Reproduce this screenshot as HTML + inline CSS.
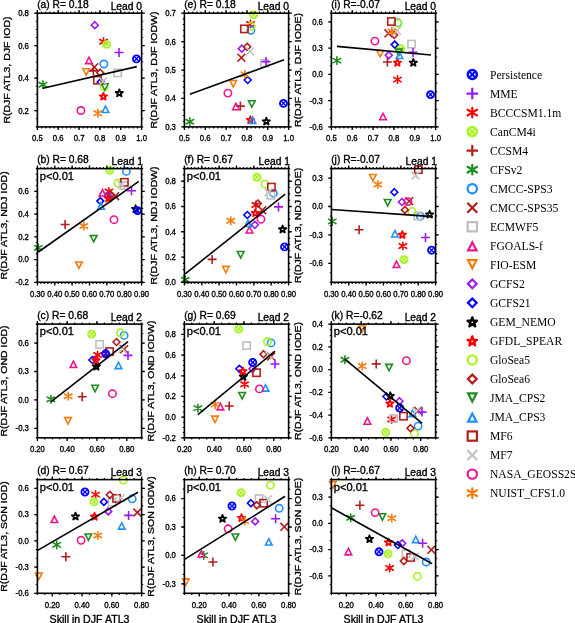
<!DOCTYPE html>
<html><head><meta charset="utf-8"><style>
html,body{margin:0;padding:0;background:#fff;}
svg{display:block;will-change:transform;}
</style></head><body>
<svg width="575" height="623" viewBox="0 0 575 623">
<rect width="575" height="623" fill="#fff"/>
<path d="M103.5 37.9V45.5M99.77 39.46L107.23 43.94M99.77 43.94L107.23 39.46" stroke="#ff0000" stroke-width="1.6" stroke-linecap="round"/>
<g stroke="#a5f51e" fill="none"><circle cx="106.6" cy="44.4" r="3.55" stroke-width="1.84"/><path d="M104.04 41.84L109.16 46.96M104.04 46.96L109.16 41.84" stroke-width="1.36"/></g>
<path d="M88.9 70.9H97.9M93.4 66.4V75.4" stroke="#b21e1e" stroke-width="1.6"/>
<path d="M42.9 80.9V88.5M39.17 82.46L46.63 86.94M39.17 86.94L46.63 82.46" stroke="#1e8c1e" stroke-width="1.6" stroke-linecap="round"/>
<circle cx="103.9" cy="64" r="3.65" fill="none" stroke="#1e90ff" stroke-width="1.6"/>
<path d="M90.5 63.3L98.3 71.1M90.5 71.1L98.3 63.3" stroke="#b21e1e" stroke-width="1.6"/>
<rect x="113.95" y="69.25" width="7.3" height="7.3" fill="none" stroke="#bebebe" stroke-width="1.6"/>
<path d="M89 57.25L92.3 63.65L85.7 63.65Z" fill="none" stroke="#f0148c" stroke-width="1.6"/>
<path d="M86.2 75.15L89.5 68.75L82.9 68.75Z" fill="none" stroke="#f57d0f" stroke-width="1.6"/>
<path d="M94.8 21.75L98.25 25.2L94.8 28.65L91.35 25.2Z" fill="none" stroke="#9b19f5" stroke-width="1.6"/>
<path d="M100.7 78.55L104.15 82L100.7 85.45L97.25 82Z" fill="none" stroke="#0000ff" stroke-width="1.6"/>
<path d="M119.3 89.32L120.21 91.92L122.96 91.98L120.76 93.65L121.56 96.28L119.3 94.71L117.04 96.28L117.84 93.65L115.64 91.98L118.39 91.92Z" fill="none" stroke="#000000" stroke-width="1.79" stroke-linejoin="round"/>
<path d="M103.4 92.72L104.31 95.32L107.06 95.38L104.86 97.05L105.66 99.68L103.4 98.11L101.14 99.68L101.94 97.05L99.74 95.38L102.49 95.32Z" fill="none" stroke="#ff0000" stroke-width="1.79" stroke-linejoin="round"/>
<circle cx="104.2" cy="86.9" r="3.65" fill="none" stroke="#a5f51e" stroke-width="1.6"/>
<path d="M100.2 69.25L103.65 72.7L100.2 76.15L96.75 72.7Z" fill="none" stroke="#b21e1e" stroke-width="1.6"/>
<path d="M104.8 90.25L108.1 83.85L101.5 83.85Z" fill="none" stroke="#1e8c1e" stroke-width="1.6"/>
<path d="M105.5 106.05L108.8 112.45L102.2 112.45Z" fill="none" stroke="#1e90ff" stroke-width="1.6"/>
<rect x="93.75" y="76.55" width="7.3" height="7.3" fill="none" stroke="#b21e1e" stroke-width="1.6"/>
<path d="M99.1 77.5L106.9 85.3M99.1 85.3L106.9 77.5" stroke="#c3c3c3" stroke-width="1.6"/>
<circle cx="80.9" cy="110.5" r="3.65" fill="none" stroke="#f0148c" stroke-width="1.6"/>
<path d="M97.8 109.4V117M94.07 110.96L101.53 115.44M94.07 115.44L101.53 110.96" stroke="#f57d0f" stroke-width="1.6" stroke-linecap="round"/>
<path d="M114.5 52.5H123.5M119 48V57" stroke="#9b19f5" stroke-width="1.6"/>
<g stroke="#0000ff" fill="none"><circle cx="136.5" cy="58.9" r="3.55" stroke-width="1.84"/><path d="M133.94 56.34L139.06 61.46M133.94 61.46L139.06 56.34" stroke-width="1.36"/></g>
<path d="M42.9 88.3L136.8 66.6" stroke="#000" stroke-width="1.6" fill="none"/>
<path d="M37.4 126.9v1.6M37.4 13.2v-1.6M41.57 126.9v1.6M41.57 13.2v-1.6M45.74 126.9v1.6M45.74 13.2v-1.6M49.9 126.9v1.6M49.9 13.2v-1.6M54.07 126.9v1.6M54.07 13.2v-1.6M58.24 126.9v1.6M58.24 13.2v-1.6M62.41 126.9v1.6M62.41 13.2v-1.6M66.58 126.9v1.6M66.58 13.2v-1.6M70.74 126.9v1.6M70.74 13.2v-1.6M74.91 126.9v1.6M74.91 13.2v-1.6M79.08 126.9v1.6M79.08 13.2v-1.6M83.25 126.9v1.6M83.25 13.2v-1.6M87.42 126.9v1.6M87.42 13.2v-1.6M91.58 126.9v1.6M91.58 13.2v-1.6M95.75 126.9v1.6M95.75 13.2v-1.6M99.92 126.9v1.6M99.92 13.2v-1.6M104.09 126.9v1.6M104.09 13.2v-1.6M108.26 126.9v1.6M108.26 13.2v-1.6M112.42 126.9v1.6M112.42 13.2v-1.6M116.59 126.9v1.6M116.59 13.2v-1.6M120.76 126.9v1.6M120.76 13.2v-1.6M124.93 126.9v1.6M124.93 13.2v-1.6M129.1 126.9v1.6M129.1 13.2v-1.6M133.26 126.9v1.6M133.26 13.2v-1.6M137.43 126.9v1.6M137.43 13.2v-1.6M141.6 126.9v1.6M141.6 13.2v-1.6M37.4 126.9h-1.6M141.6 126.9h1.6M37.4 118.78h-1.6M141.6 118.78h1.6M37.4 110.66h-1.6M141.6 110.66h1.6M37.4 102.54h-1.6M141.6 102.54h1.6M37.4 94.41h-1.6M141.6 94.41h1.6M37.4 86.29h-1.6M141.6 86.29h1.6M37.4 78.17h-1.6M141.6 78.17h1.6M37.4 70.05h-1.6M141.6 70.05h1.6M37.4 61.93h-1.6M141.6 61.93h1.6M37.4 53.81h-1.6M141.6 53.81h1.6M37.4 45.69h-1.6M141.6 45.69h1.6M37.4 37.56h-1.6M141.6 37.56h1.6M37.4 29.44h-1.6M141.6 29.44h1.6M37.4 21.32h-1.6M141.6 21.32h1.6M37.4 13.2h-1.6M141.6 13.2h1.6" stroke="#000" stroke-width="1.1" fill="none"/>
<path d="M37.4 126.9v3.2M37.4 13.2v-3.2M58.24 126.9v3.2M58.24 13.2v-3.2M79.08 126.9v3.2M79.08 13.2v-3.2M99.92 126.9v3.2M99.92 13.2v-3.2M120.76 126.9v3.2M120.76 13.2v-3.2M141.6 126.9v3.2M141.6 13.2v-3.2M37.4 110.66h-3.2M141.6 110.66h3.2M37.4 78.17h-3.2M141.6 78.17h3.2M37.4 45.69h-3.2M141.6 45.69h3.2M37.4 13.2h-3.2M141.6 13.2h3.2" stroke="#000" stroke-width="1.3" fill="none"/>
<rect x="37.4" y="13.2" width="104.2" height="113.7" fill="none" stroke="#000" stroke-width="1.6"/>
<text transform="translate(37.4 141.1) scale(0.92 1)" font-size="8.4" text-anchor="middle" font-family='"Liberation Sans", sans-serif' stroke="#000" stroke-width="0.35">0.5</text>
<text transform="translate(58.24 141.1) scale(0.92 1)" font-size="8.4" text-anchor="middle" font-family='"Liberation Sans", sans-serif' stroke="#000" stroke-width="0.35">0.6</text>
<text transform="translate(79.08 141.1) scale(0.92 1)" font-size="8.4" text-anchor="middle" font-family='"Liberation Sans", sans-serif' stroke="#000" stroke-width="0.35">0.7</text>
<text transform="translate(99.92 141.1) scale(0.92 1)" font-size="8.4" text-anchor="middle" font-family='"Liberation Sans", sans-serif' stroke="#000" stroke-width="0.35">0.8</text>
<text transform="translate(120.76 141.1) scale(0.92 1)" font-size="8.4" text-anchor="middle" font-family='"Liberation Sans", sans-serif' stroke="#000" stroke-width="0.35">0.9</text>
<text transform="translate(141.6 141.1) scale(0.92 1)" font-size="8.4" text-anchor="middle" font-family='"Liberation Sans", sans-serif' stroke="#000" stroke-width="0.35">1.0</text>
<text transform="translate(28.9 113.56) scale(0.92 1)" font-size="8.4" text-anchor="end" font-family='"Liberation Sans", sans-serif' stroke="#000" stroke-width="0.35">0.2</text>
<text transform="translate(28.9 81.07) scale(0.92 1)" font-size="8.4" text-anchor="end" font-family='"Liberation Sans", sans-serif' stroke="#000" stroke-width="0.35">0.4</text>
<text transform="translate(28.9 48.59) scale(0.92 1)" font-size="8.4" text-anchor="end" font-family='"Liberation Sans", sans-serif' stroke="#000" stroke-width="0.35">0.6</text>
<text transform="translate(28.9 16.1) scale(0.92 1)" font-size="8.4" text-anchor="end" font-family='"Liberation Sans", sans-serif' stroke="#000" stroke-width="0.35">0.8</text>
<text x="37.2" y="8" font-size="10.25" text-anchor="start" font-family='"Liberation Sans", sans-serif' stroke="#000" stroke-width="0.35">(a) R= 0.18</text>
<text x="142" y="9.7" font-size="10.25" text-anchor="end" font-family='"Liberation Sans", sans-serif' stroke="#000" stroke-width="0.35">Lead 0</text>
<text transform="translate(9.66 70.05) rotate(-90) scale(1 0.92)" font-size="10.5" text-anchor="middle" font-family='"Liberation Sans", sans-serif' stroke="#000" stroke-width="0.35">R(DJF ATL3, DJF IOD)</text>
<path d="M250.5 20.2V27.8M246.77 21.76L254.23 26.24M246.77 26.24L254.23 21.76" stroke="#ff0000" stroke-width="1.6" stroke-linecap="round"/>
<g stroke="#a5f51e" fill="none"><circle cx="253.6" cy="14.6" r="3.55" stroke-width="1.84"/><path d="M251.04 12.04L256.16 17.16M251.04 17.16L256.16 12.04" stroke-width="1.36"/></g>
<path d="M235.9 106.1H244.9M240.4 101.6V110.6" stroke="#b21e1e" stroke-width="1.6"/>
<path d="M189.9 117.9V125.5M186.17 119.46L193.63 123.94M186.17 123.94L193.63 119.46" stroke="#1e8c1e" stroke-width="1.6" stroke-linecap="round"/>
<circle cx="250.9" cy="30.3" r="3.65" fill="none" stroke="#1e90ff" stroke-width="1.6"/>
<path d="M237.5 53.8L245.3 61.6M237.5 61.6L245.3 53.8" stroke="#b21e1e" stroke-width="1.6"/>
<rect x="260.95" y="59.65" width="7.3" height="7.3" fill="none" stroke="#bebebe" stroke-width="1.6"/>
<path d="M236 103.35L239.3 109.75L232.7 109.75Z" fill="none" stroke="#f0148c" stroke-width="1.6"/>
<path d="M233.2 86.95L236.5 80.55L229.9 80.55Z" fill="none" stroke="#f57d0f" stroke-width="1.6"/>
<path d="M241.8 45.25L245.25 48.7L241.8 52.15L238.35 48.7Z" fill="none" stroke="#9b19f5" stroke-width="1.6"/>
<path d="M247.7 76.55L251.15 80L247.7 83.45L244.25 80Z" fill="none" stroke="#0000ff" stroke-width="1.6"/>
<path d="M266.3 117.62L267.21 120.22L269.96 120.28L267.76 121.95L268.56 124.58L266.3 123.01L264.04 124.58L264.84 121.95L262.64 120.28L265.39 120.22Z" fill="none" stroke="#000000" stroke-width="1.79" stroke-linejoin="round"/>
<path d="M250.4 116.22L251.31 118.82L254.06 118.88L251.86 120.55L252.66 123.18L250.4 121.61L248.14 123.18L248.94 120.55L246.74 118.88L249.49 118.82Z" fill="none" stroke="#ff0000" stroke-width="1.79" stroke-linejoin="round"/>
<circle cx="251.2" cy="26.4" r="3.65" fill="none" stroke="#a5f51e" stroke-width="1.6"/>
<path d="M247.2 43.35L250.65 46.8L247.2 50.25L243.75 46.8Z" fill="none" stroke="#b21e1e" stroke-width="1.6"/>
<path d="M251.8 107.15L255.1 100.75L248.5 100.75Z" fill="none" stroke="#1e8c1e" stroke-width="1.6"/>
<path d="M252.5 116.95L255.8 123.35L249.2 123.35Z" fill="none" stroke="#1e90ff" stroke-width="1.6"/>
<rect x="240.75" y="25.25" width="7.3" height="7.3" fill="none" stroke="#b21e1e" stroke-width="1.6"/>
<path d="M246.1 47.5L253.9 55.3M246.1 55.3L253.9 47.5" stroke="#c3c3c3" stroke-width="1.6"/>
<circle cx="227.9" cy="93.1" r="3.65" fill="none" stroke="#f0148c" stroke-width="1.6"/>
<path d="M244.8 70.6V78.2M241.07 72.16L248.53 76.64M241.07 76.64L248.53 72.16" stroke="#f57d0f" stroke-width="1.6" stroke-linecap="round"/>
<path d="M261.5 61.6H270.5M266 57.1V66.1" stroke="#9b19f5" stroke-width="1.6"/>
<g stroke="#0000ff" fill="none"><circle cx="283.5" cy="103.4" r="3.55" stroke-width="1.84"/><path d="M280.94 100.84L286.06 105.96M280.94 105.96L286.06 100.84" stroke-width="1.36"/></g>
<path d="M189.9 94.2L284.1 59.8" stroke="#000" stroke-width="1.6" fill="none"/>
<path d="M184.4 126.9v1.6M184.4 13.2v-1.6M188.57 126.9v1.6M188.57 13.2v-1.6M192.74 126.9v1.6M192.74 13.2v-1.6M196.9 126.9v1.6M196.9 13.2v-1.6M201.07 126.9v1.6M201.07 13.2v-1.6M205.24 126.9v1.6M205.24 13.2v-1.6M209.41 126.9v1.6M209.41 13.2v-1.6M213.58 126.9v1.6M213.58 13.2v-1.6M217.74 126.9v1.6M217.74 13.2v-1.6M221.91 126.9v1.6M221.91 13.2v-1.6M226.08 126.9v1.6M226.08 13.2v-1.6M230.25 126.9v1.6M230.25 13.2v-1.6M234.42 126.9v1.6M234.42 13.2v-1.6M238.58 126.9v1.6M238.58 13.2v-1.6M242.75 126.9v1.6M242.75 13.2v-1.6M246.92 126.9v1.6M246.92 13.2v-1.6M251.09 126.9v1.6M251.09 13.2v-1.6M255.26 126.9v1.6M255.26 13.2v-1.6M259.42 126.9v1.6M259.42 13.2v-1.6M263.59 126.9v1.6M263.59 13.2v-1.6M267.76 126.9v1.6M267.76 13.2v-1.6M271.93 126.9v1.6M271.93 13.2v-1.6M276.1 126.9v1.6M276.1 13.2v-1.6M280.26 126.9v1.6M280.26 13.2v-1.6M284.43 126.9v1.6M284.43 13.2v-1.6M288.6 126.9v1.6M288.6 13.2v-1.6M184.4 126.9h-1.6M288.6 126.9h1.6M184.4 121.22h-1.6M288.6 121.22h1.6M184.4 115.53h-1.6M288.6 115.53h1.6M184.4 109.84h-1.6M288.6 109.84h1.6M184.4 104.16h-1.6M288.6 104.16h1.6M184.4 98.47h-1.6M288.6 98.47h1.6M184.4 92.79h-1.6M288.6 92.79h1.6M184.4 87.1h-1.6M288.6 87.1h1.6M184.4 81.42h-1.6M288.6 81.42h1.6M184.4 75.74h-1.6M288.6 75.74h1.6M184.4 70.05h-1.6M288.6 70.05h1.6M184.4 64.36h-1.6M288.6 64.36h1.6M184.4 58.68h-1.6M288.6 58.68h1.6M184.4 52.99h-1.6M288.6 52.99h1.6M184.4 47.31h-1.6M288.6 47.31h1.6M184.4 41.62h-1.6M288.6 41.62h1.6M184.4 35.94h-1.6M288.6 35.94h1.6M184.4 30.25h-1.6M288.6 30.25h1.6M184.4 24.57h-1.6M288.6 24.57h1.6M184.4 18.88h-1.6M288.6 18.88h1.6M184.4 13.2h-1.6M288.6 13.2h1.6" stroke="#000" stroke-width="1.1" fill="none"/>
<path d="M184.4 126.9v3.2M184.4 13.2v-3.2M205.24 126.9v3.2M205.24 13.2v-3.2M226.08 126.9v3.2M226.08 13.2v-3.2M246.92 126.9v3.2M246.92 13.2v-3.2M267.76 126.9v3.2M267.76 13.2v-3.2M288.6 126.9v3.2M288.6 13.2v-3.2M184.4 126.9h-3.2M288.6 126.9h3.2M184.4 98.47h-3.2M288.6 98.47h3.2M184.4 70.05h-3.2M288.6 70.05h3.2M184.4 41.62h-3.2M288.6 41.62h3.2M184.4 13.2h-3.2M288.6 13.2h3.2" stroke="#000" stroke-width="1.3" fill="none"/>
<rect x="184.4" y="13.2" width="104.2" height="113.7" fill="none" stroke="#000" stroke-width="1.6"/>
<text transform="translate(184.4 141.1) scale(0.92 1)" font-size="8.4" text-anchor="middle" font-family='"Liberation Sans", sans-serif' stroke="#000" stroke-width="0.35">0.5</text>
<text transform="translate(205.24 141.1) scale(0.92 1)" font-size="8.4" text-anchor="middle" font-family='"Liberation Sans", sans-serif' stroke="#000" stroke-width="0.35">0.6</text>
<text transform="translate(226.08 141.1) scale(0.92 1)" font-size="8.4" text-anchor="middle" font-family='"Liberation Sans", sans-serif' stroke="#000" stroke-width="0.35">0.7</text>
<text transform="translate(246.92 141.1) scale(0.92 1)" font-size="8.4" text-anchor="middle" font-family='"Liberation Sans", sans-serif' stroke="#000" stroke-width="0.35">0.8</text>
<text transform="translate(267.76 141.1) scale(0.92 1)" font-size="8.4" text-anchor="middle" font-family='"Liberation Sans", sans-serif' stroke="#000" stroke-width="0.35">0.9</text>
<text transform="translate(288.6 141.1) scale(0.92 1)" font-size="8.4" text-anchor="middle" font-family='"Liberation Sans", sans-serif' stroke="#000" stroke-width="0.35">1.0</text>
<text transform="translate(175.9 129.8) scale(0.92 1)" font-size="8.4" text-anchor="end" font-family='"Liberation Sans", sans-serif' stroke="#000" stroke-width="0.35">0.3</text>
<text transform="translate(175.9 101.38) scale(0.92 1)" font-size="8.4" text-anchor="end" font-family='"Liberation Sans", sans-serif' stroke="#000" stroke-width="0.35">0.4</text>
<text transform="translate(175.9 72.95) scale(0.92 1)" font-size="8.4" text-anchor="end" font-family='"Liberation Sans", sans-serif' stroke="#000" stroke-width="0.35">0.5</text>
<text transform="translate(175.9 44.52) scale(0.92 1)" font-size="8.4" text-anchor="end" font-family='"Liberation Sans", sans-serif' stroke="#000" stroke-width="0.35">0.6</text>
<text transform="translate(175.9 16.1) scale(0.92 1)" font-size="8.4" text-anchor="end" font-family='"Liberation Sans", sans-serif' stroke="#000" stroke-width="0.35">0.7</text>
<text x="184.2" y="8" font-size="10.25" text-anchor="start" font-family='"Liberation Sans", sans-serif' stroke="#000" stroke-width="0.35">(e) R= 0.18</text>
<text x="289" y="9.7" font-size="10.25" text-anchor="end" font-family='"Liberation Sans", sans-serif' stroke="#000" stroke-width="0.35">Lead 0</text>
<text transform="translate(156.66 70.05) rotate(-90) scale(1 0.92)" font-size="10.5" text-anchor="middle" font-family='"Liberation Sans", sans-serif' stroke="#000" stroke-width="0.35">R(DJF ATL3, DJF IODW)</text>
<path d="M397.5 75.8V83.4M393.77 77.36L401.23 81.84M393.77 81.84L401.23 77.36" stroke="#ff0000" stroke-width="1.6" stroke-linecap="round"/>
<g stroke="#a5f51e" fill="none"><circle cx="400.6" cy="48.7" r="3.55" stroke-width="1.84"/><path d="M398.04 46.14L403.16 51.26M398.04 51.26L403.16 46.14" stroke-width="1.36"/></g>
<path d="M382.9 62H391.9M387.4 57.5V66.5" stroke="#b21e1e" stroke-width="1.6"/>
<path d="M336.9 56.8V64.4M333.17 58.36L340.63 62.84M333.17 62.84L340.63 58.36" stroke="#1e8c1e" stroke-width="1.6" stroke-linecap="round"/>
<circle cx="397.9" cy="22.8" r="3.65" fill="none" stroke="#1e90ff" stroke-width="1.6"/>
<path d="M384.5 29.4L392.3 37.2M384.5 37.2L392.3 29.4" stroke="#b21e1e" stroke-width="1.6"/>
<rect x="407.95" y="40.45" width="7.3" height="7.3" fill="none" stroke="#bebebe" stroke-width="1.6"/>
<path d="M383 113.35L386.3 119.75L379.7 119.75Z" fill="none" stroke="#f0148c" stroke-width="1.6"/>
<path d="M380.2 56.85L383.5 50.45L376.9 50.45Z" fill="none" stroke="#f57d0f" stroke-width="1.6"/>
<path d="M388.8 51.75L392.25 55.2L388.8 58.65L385.35 55.2Z" fill="none" stroke="#9b19f5" stroke-width="1.6"/>
<path d="M394.7 41.15L398.15 44.6L394.7 48.05L391.25 44.6Z" fill="none" stroke="#0000ff" stroke-width="1.6"/>
<path d="M413.3 58.92L414.21 61.52L416.96 61.58L414.76 63.25L415.56 65.88L413.3 64.31L411.04 65.88L411.84 63.25L409.64 61.58L412.39 61.52Z" fill="none" stroke="#000000" stroke-width="1.79" stroke-linejoin="round"/>
<path d="M397.4 58.92L398.31 61.52L401.06 61.58L398.86 63.25L399.66 65.88L397.4 64.31L395.14 65.88L395.94 63.25L393.74 61.58L396.49 61.52Z" fill="none" stroke="#ff0000" stroke-width="1.79" stroke-linejoin="round"/>
<circle cx="398.2" cy="23.3" r="3.65" fill="none" stroke="#a5f51e" stroke-width="1.6"/>
<path d="M394.2 31.55L397.65 35L394.2 38.45L390.75 35Z" fill="none" stroke="#b21e1e" stroke-width="1.6"/>
<path d="M398.8 55.55L402.1 49.15L395.5 49.15Z" fill="none" stroke="#1e8c1e" stroke-width="1.6"/>
<path d="M399.5 52.05L402.8 58.45L396.2 58.45Z" fill="none" stroke="#1e90ff" stroke-width="1.6"/>
<rect x="387.75" y="17.85" width="7.3" height="7.3" fill="none" stroke="#b21e1e" stroke-width="1.6"/>
<path d="M393.1 26.7L400.9 34.5M393.1 34.5L400.9 26.7" stroke="#c3c3c3" stroke-width="1.6"/>
<circle cx="374.9" cy="41.1" r="3.65" fill="none" stroke="#f0148c" stroke-width="1.6"/>
<path d="M391.8 27.7V35.3M388.07 29.26L395.53 33.74M388.07 33.74L395.53 29.26" stroke="#f57d0f" stroke-width="1.6" stroke-linecap="round"/>
<path d="M408.5 52.4H417.5M413 47.9V56.9" stroke="#9b19f5" stroke-width="1.6"/>
<g stroke="#0000ff" fill="none"><circle cx="430.5" cy="94.6" r="3.55" stroke-width="1.84"/><path d="M427.94 92.04L433.06 97.16M427.94 97.16L433.06 92.04" stroke-width="1.36"/></g>
<path d="M337 46.4L431 55" stroke="#000" stroke-width="1.6" fill="none"/>
<path d="M331.4 126.9v1.6M331.4 13.2v-1.6M335.57 126.9v1.6M335.57 13.2v-1.6M339.74 126.9v1.6M339.74 13.2v-1.6M343.9 126.9v1.6M343.9 13.2v-1.6M348.07 126.9v1.6M348.07 13.2v-1.6M352.24 126.9v1.6M352.24 13.2v-1.6M356.41 126.9v1.6M356.41 13.2v-1.6M360.58 126.9v1.6M360.58 13.2v-1.6M364.74 126.9v1.6M364.74 13.2v-1.6M368.91 126.9v1.6M368.91 13.2v-1.6M373.08 126.9v1.6M373.08 13.2v-1.6M377.25 126.9v1.6M377.25 13.2v-1.6M381.42 126.9v1.6M381.42 13.2v-1.6M385.58 126.9v1.6M385.58 13.2v-1.6M389.75 126.9v1.6M389.75 13.2v-1.6M393.92 126.9v1.6M393.92 13.2v-1.6M398.09 126.9v1.6M398.09 13.2v-1.6M402.26 126.9v1.6M402.26 13.2v-1.6M406.42 126.9v1.6M406.42 13.2v-1.6M410.59 126.9v1.6M410.59 13.2v-1.6M414.76 126.9v1.6M414.76 13.2v-1.6M418.93 126.9v1.6M418.93 13.2v-1.6M423.1 126.9v1.6M423.1 13.2v-1.6M427.26 126.9v1.6M427.26 13.2v-1.6M431.43 126.9v1.6M431.43 13.2v-1.6M435.6 126.9v1.6M435.6 13.2v-1.6M331.4 126.9h-1.6M435.6 126.9h1.6M331.4 118.15h-1.6M435.6 118.15h1.6M331.4 109.41h-1.6M435.6 109.41h1.6M331.4 100.66h-1.6M435.6 100.66h1.6M331.4 91.92h-1.6M435.6 91.92h1.6M331.4 83.17h-1.6M435.6 83.17h1.6M331.4 74.42h-1.6M435.6 74.42h1.6M331.4 65.68h-1.6M435.6 65.68h1.6M331.4 56.93h-1.6M435.6 56.93h1.6M331.4 48.18h-1.6M435.6 48.18h1.6M331.4 39.44h-1.6M435.6 39.44h1.6M331.4 30.69h-1.6M435.6 30.69h1.6M331.4 21.95h-1.6M435.6 21.95h1.6M331.4 13.2h-1.6M435.6 13.2h1.6" stroke="#000" stroke-width="1.1" fill="none"/>
<path d="M331.4 126.9v3.2M331.4 13.2v-3.2M352.24 126.9v3.2M352.24 13.2v-3.2M373.08 126.9v3.2M373.08 13.2v-3.2M393.92 126.9v3.2M393.92 13.2v-3.2M414.76 126.9v3.2M414.76 13.2v-3.2M435.6 126.9v3.2M435.6 13.2v-3.2M331.4 126.9h-3.2M435.6 126.9h3.2M331.4 100.66h-3.2M435.6 100.66h3.2M331.4 74.42h-3.2M435.6 74.42h3.2M331.4 48.18h-3.2M435.6 48.18h3.2M331.4 21.95h-3.2M435.6 21.95h3.2" stroke="#000" stroke-width="1.3" fill="none"/>
<rect x="331.4" y="13.2" width="104.2" height="113.7" fill="none" stroke="#000" stroke-width="1.6"/>
<text transform="translate(331.4 141.1) scale(0.92 1)" font-size="8.4" text-anchor="middle" font-family='"Liberation Sans", sans-serif' stroke="#000" stroke-width="0.35">0.5</text>
<text transform="translate(352.24 141.1) scale(0.92 1)" font-size="8.4" text-anchor="middle" font-family='"Liberation Sans", sans-serif' stroke="#000" stroke-width="0.35">0.6</text>
<text transform="translate(373.08 141.1) scale(0.92 1)" font-size="8.4" text-anchor="middle" font-family='"Liberation Sans", sans-serif' stroke="#000" stroke-width="0.35">0.7</text>
<text transform="translate(393.92 141.1) scale(0.92 1)" font-size="8.4" text-anchor="middle" font-family='"Liberation Sans", sans-serif' stroke="#000" stroke-width="0.35">0.8</text>
<text transform="translate(414.76 141.1) scale(0.92 1)" font-size="8.4" text-anchor="middle" font-family='"Liberation Sans", sans-serif' stroke="#000" stroke-width="0.35">0.9</text>
<text transform="translate(435.6 141.1) scale(0.92 1)" font-size="8.4" text-anchor="middle" font-family='"Liberation Sans", sans-serif' stroke="#000" stroke-width="0.35">1.0</text>
<text transform="translate(322.9 129.8) scale(0.92 1)" font-size="8.4" text-anchor="end" font-family='"Liberation Sans", sans-serif' stroke="#000" stroke-width="0.35">-0.6</text>
<text transform="translate(322.9 103.56) scale(0.92 1)" font-size="8.4" text-anchor="end" font-family='"Liberation Sans", sans-serif' stroke="#000" stroke-width="0.35">-0.3</text>
<text transform="translate(322.9 77.32) scale(0.92 1)" font-size="8.4" text-anchor="end" font-family='"Liberation Sans", sans-serif' stroke="#000" stroke-width="0.35">0.0</text>
<text transform="translate(322.9 51.08) scale(0.92 1)" font-size="8.4" text-anchor="end" font-family='"Liberation Sans", sans-serif' stroke="#000" stroke-width="0.35">0.3</text>
<text transform="translate(322.9 24.85) scale(0.92 1)" font-size="8.4" text-anchor="end" font-family='"Liberation Sans", sans-serif' stroke="#000" stroke-width="0.35">0.6</text>
<text x="331.2" y="8" font-size="10.25" text-anchor="start" font-family='"Liberation Sans", sans-serif' stroke="#000" stroke-width="0.35">(i) R=-0.07</text>
<text x="436" y="9.7" font-size="10.25" text-anchor="end" font-family='"Liberation Sans", sans-serif' stroke="#000" stroke-width="0.35">Lead 0</text>
<text transform="translate(301.08 70.05) rotate(-90) scale(1 0.92)" font-size="10.5" text-anchor="middle" font-family='"Liberation Sans", sans-serif' stroke="#000" stroke-width="0.35">R(DJF ATL3, DJF IODE)</text>
<path d="M108.9 187.7V195.3M105.17 189.26L112.63 193.74M105.17 193.74L112.63 189.26" stroke="#ff0000" stroke-width="1.6" stroke-linecap="round"/>
<g stroke="#a5f51e" fill="none"><circle cx="109.9" cy="170.3" r="3.55" stroke-width="1.84"/><path d="M107.34 167.74L112.46 172.86M107.34 172.86L112.46 167.74" stroke-width="1.36"/></g>
<path d="M60.6 224.5H69.6M65.1 220V229" stroke="#b21e1e" stroke-width="1.6"/>
<path d="M38.3 244.1V251.7M34.57 245.66L42.03 250.14M34.57 250.14L42.03 245.66" stroke="#1e8c1e" stroke-width="1.6" stroke-linecap="round"/>
<circle cx="126.4" cy="171.4" r="3.65" fill="none" stroke="#1e90ff" stroke-width="1.6"/>
<path d="M111.3 192.3L119.1 200.1M111.3 200.1L119.1 192.3" stroke="#b21e1e" stroke-width="1.6"/>
<rect x="120.25" y="181.85" width="7.3" height="7.3" fill="none" stroke="#bebebe" stroke-width="1.6"/>
<path d="M102.5 189.65L105.8 196.05L99.2 196.05Z" fill="none" stroke="#f0148c" stroke-width="1.6"/>
<path d="M78.9 268.35L82.2 261.95L75.6 261.95Z" fill="none" stroke="#f57d0f" stroke-width="1.6"/>
<path d="M107.9 192.15L111.35 195.6L107.9 199.05L104.45 195.6Z" fill="none" stroke="#9b19f5" stroke-width="1.6"/>
<path d="M100.3 197.65L103.75 201.1L100.3 204.55L96.85 201.1Z" fill="none" stroke="#0000ff" stroke-width="1.6"/>
<path d="M135.6 205.22L136.51 207.82L139.26 207.88L137.06 209.55L137.86 212.18L135.6 210.61L133.34 212.18L134.14 209.55L131.94 207.88L134.69 207.82Z" fill="none" stroke="#000000" stroke-width="1.79" stroke-linejoin="round"/>
<path d="M108.3 194.52L109.21 197.12L111.96 197.18L109.76 198.85L110.56 201.48L108.3 199.91L106.04 201.48L106.84 198.85L104.64 197.18L107.39 197.12Z" fill="none" stroke="#ff0000" stroke-width="1.79" stroke-linejoin="round"/>
<circle cx="118" cy="183" r="3.65" fill="none" stroke="#a5f51e" stroke-width="1.6"/>
<path d="M110.9 191.25L114.35 194.7L110.9 198.15L107.45 194.7Z" fill="none" stroke="#b21e1e" stroke-width="1.6"/>
<path d="M93.7 241.85L97 235.45L90.4 235.45Z" fill="none" stroke="#1e8c1e" stroke-width="1.6"/>
<path d="M101 202.85L104.3 209.25L97.7 209.25Z" fill="none" stroke="#1e90ff" stroke-width="1.6"/>
<rect x="120.75" y="178.65" width="7.3" height="7.3" fill="none" stroke="#b21e1e" stroke-width="1.6"/>
<path d="M117.6 180.8L125.4 188.6M117.6 188.6L125.4 180.8" stroke="#c3c3c3" stroke-width="1.6"/>
<circle cx="114" cy="219.7" r="3.65" fill="none" stroke="#f0148c" stroke-width="1.6"/>
<path d="M83.8 222.2V229.8M80.07 223.76L87.53 228.24M80.07 228.24L87.53 223.76" stroke="#f57d0f" stroke-width="1.6" stroke-linecap="round"/>
<path d="M127 190.8H136M131.5 186.3V195.3" stroke="#9b19f5" stroke-width="1.6"/>
<g stroke="#0000ff" fill="none"><circle cx="137.6" cy="210.6" r="3.55" stroke-width="1.84"/><path d="M135.04 208.04L140.16 213.16M135.04 213.16L140.16 208.04" stroke-width="1.36"/></g>
<path d="M38.3 252L138.8 181.4" stroke="#000" stroke-width="1.6" fill="none"/>
<path d="M37.4 282.3v1.6M37.4 168.6v-1.6M40.87 282.3v1.6M40.87 168.6v-1.6M44.35 282.3v1.6M44.35 168.6v-1.6M47.82 282.3v1.6M47.82 168.6v-1.6M51.29 282.3v1.6M51.29 168.6v-1.6M54.77 282.3v1.6M54.77 168.6v-1.6M58.24 282.3v1.6M58.24 168.6v-1.6M61.71 282.3v1.6M61.71 168.6v-1.6M65.19 282.3v1.6M65.19 168.6v-1.6M68.66 282.3v1.6M68.66 168.6v-1.6M72.13 282.3v1.6M72.13 168.6v-1.6M75.61 282.3v1.6M75.61 168.6v-1.6M79.08 282.3v1.6M79.08 168.6v-1.6M82.55 282.3v1.6M82.55 168.6v-1.6M86.03 282.3v1.6M86.03 168.6v-1.6M89.5 282.3v1.6M89.5 168.6v-1.6M92.97 282.3v1.6M92.97 168.6v-1.6M96.45 282.3v1.6M96.45 168.6v-1.6M99.92 282.3v1.6M99.92 168.6v-1.6M103.39 282.3v1.6M103.39 168.6v-1.6M106.87 282.3v1.6M106.87 168.6v-1.6M110.34 282.3v1.6M110.34 168.6v-1.6M113.81 282.3v1.6M113.81 168.6v-1.6M117.29 282.3v1.6M117.29 168.6v-1.6M120.76 282.3v1.6M120.76 168.6v-1.6M124.23 282.3v1.6M124.23 168.6v-1.6M127.71 282.3v1.6M127.71 168.6v-1.6M131.18 282.3v1.6M131.18 168.6v-1.6M134.65 282.3v1.6M134.65 168.6v-1.6M138.13 282.3v1.6M138.13 168.6v-1.6M141.6 282.3v1.6M141.6 168.6v-1.6M37.4 282.3h-1.6M141.6 282.3h1.6M37.4 276.62h-1.6M141.6 276.62h1.6M37.4 270.93h-1.6M141.6 270.93h1.6M37.4 265.25h-1.6M141.6 265.25h1.6M37.4 259.56h-1.6M141.6 259.56h1.6M37.4 253.88h-1.6M141.6 253.88h1.6M37.4 248.19h-1.6M141.6 248.19h1.6M37.4 242.5h-1.6M141.6 242.5h1.6M37.4 236.82h-1.6M141.6 236.82h1.6M37.4 231.14h-1.6M141.6 231.14h1.6M37.4 225.45h-1.6M141.6 225.45h1.6M37.4 219.77h-1.6M141.6 219.77h1.6M37.4 214.08h-1.6M141.6 214.08h1.6M37.4 208.4h-1.6M141.6 208.4h1.6M37.4 202.71h-1.6M141.6 202.71h1.6M37.4 197.03h-1.6M141.6 197.03h1.6M37.4 191.34h-1.6M141.6 191.34h1.6M37.4 185.66h-1.6M141.6 185.66h1.6M37.4 179.97h-1.6M141.6 179.97h1.6M37.4 174.29h-1.6M141.6 174.29h1.6M37.4 168.6h-1.6M141.6 168.6h1.6" stroke="#000" stroke-width="1.1" fill="none"/>
<path d="M37.4 282.3v3.2M37.4 168.6v-3.2M54.77 282.3v3.2M54.77 168.6v-3.2M72.13 282.3v3.2M72.13 168.6v-3.2M89.5 282.3v3.2M89.5 168.6v-3.2M106.87 282.3v3.2M106.87 168.6v-3.2M124.23 282.3v3.2M124.23 168.6v-3.2M141.6 282.3v3.2M141.6 168.6v-3.2M37.4 282.3h-3.2M141.6 282.3h3.2M37.4 259.56h-3.2M141.6 259.56h3.2M37.4 236.82h-3.2M141.6 236.82h3.2M37.4 214.08h-3.2M141.6 214.08h3.2M37.4 191.34h-3.2M141.6 191.34h3.2" stroke="#000" stroke-width="1.3" fill="none"/>
<rect x="37.4" y="168.6" width="104.2" height="113.7" fill="none" stroke="#000" stroke-width="1.6"/>
<text transform="translate(37.4 296.5) scale(0.92 1)" font-size="8.4" text-anchor="middle" font-family='"Liberation Sans", sans-serif' stroke="#000" stroke-width="0.35">0.30</text>
<text transform="translate(54.77 296.5) scale(0.92 1)" font-size="8.4" text-anchor="middle" font-family='"Liberation Sans", sans-serif' stroke="#000" stroke-width="0.35">0.40</text>
<text transform="translate(72.13 296.5) scale(0.92 1)" font-size="8.4" text-anchor="middle" font-family='"Liberation Sans", sans-serif' stroke="#000" stroke-width="0.35">0.50</text>
<text transform="translate(89.5 296.5) scale(0.92 1)" font-size="8.4" text-anchor="middle" font-family='"Liberation Sans", sans-serif' stroke="#000" stroke-width="0.35">0.60</text>
<text transform="translate(106.87 296.5) scale(0.92 1)" font-size="8.4" text-anchor="middle" font-family='"Liberation Sans", sans-serif' stroke="#000" stroke-width="0.35">0.70</text>
<text transform="translate(124.23 296.5) scale(0.92 1)" font-size="8.4" text-anchor="middle" font-family='"Liberation Sans", sans-serif' stroke="#000" stroke-width="0.35">0.80</text>
<text transform="translate(141.6 296.5) scale(0.92 1)" font-size="8.4" text-anchor="middle" font-family='"Liberation Sans", sans-serif' stroke="#000" stroke-width="0.35">0.90</text>
<text transform="translate(28.9 285.2) scale(0.92 1)" font-size="8.4" text-anchor="end" font-family='"Liberation Sans", sans-serif' stroke="#000" stroke-width="0.35">-0.2</text>
<text transform="translate(28.9 262.46) scale(0.92 1)" font-size="8.4" text-anchor="end" font-family='"Liberation Sans", sans-serif' stroke="#000" stroke-width="0.35">0.0</text>
<text transform="translate(28.9 239.72) scale(0.92 1)" font-size="8.4" text-anchor="end" font-family='"Liberation Sans", sans-serif' stroke="#000" stroke-width="0.35">0.2</text>
<text transform="translate(28.9 216.98) scale(0.92 1)" font-size="8.4" text-anchor="end" font-family='"Liberation Sans", sans-serif' stroke="#000" stroke-width="0.35">0.4</text>
<text transform="translate(28.9 194.24) scale(0.92 1)" font-size="8.4" text-anchor="end" font-family='"Liberation Sans", sans-serif' stroke="#000" stroke-width="0.35">0.6</text>
<text x="37.2" y="163.4" font-size="10.25" text-anchor="start" font-family='"Liberation Sans", sans-serif' stroke="#000" stroke-width="0.35">(b) R= 0.68</text>
<text x="142.9" y="165.1" font-size="10.25" text-anchor="end" font-family='"Liberation Sans", sans-serif' stroke="#000" stroke-width="0.35">Lead 1</text>
<text x="39.8" y="179.5" font-size="11.1" text-anchor="start" font-family='"Liberation Sans", sans-serif' stroke="#000" stroke-width="0.35">p&lt;0.01</text>
<text transform="translate(7.08 225.45) rotate(-90) scale(1 0.92)" font-size="10.5" text-anchor="middle" font-family='"Liberation Sans", sans-serif' stroke="#000" stroke-width="0.35">R(DJF ATL3, NDJ IOD)</text>
<path d="M255.9 201.2V208.8M252.17 202.76L259.63 207.24M252.17 207.24L259.63 202.76" stroke="#ff0000" stroke-width="1.6" stroke-linecap="round"/>
<g stroke="#a5f51e" fill="none"><circle cx="256.9" cy="177.3" r="3.55" stroke-width="1.84"/><path d="M254.34 174.74L259.46 179.86M254.34 179.86L259.46 174.74" stroke-width="1.36"/></g>
<path d="M207.6 259.4H216.6M212.1 254.9V263.9" stroke="#b21e1e" stroke-width="1.6"/>
<path d="M185.3 276V283.6M181.57 277.56L189.03 282.04M181.57 282.04L189.03 277.56" stroke="#1e8c1e" stroke-width="1.6" stroke-linecap="round"/>
<circle cx="273.4" cy="193.2" r="3.65" fill="none" stroke="#1e90ff" stroke-width="1.6"/>
<path d="M258.3 206.3L266.1 214.1M258.3 214.1L266.1 206.3" stroke="#b21e1e" stroke-width="1.6"/>
<rect x="267.25" y="191.55" width="7.3" height="7.3" fill="none" stroke="#bebebe" stroke-width="1.6"/>
<path d="M249.5 226.55L252.8 232.95L246.2 232.95Z" fill="none" stroke="#f0148c" stroke-width="1.6"/>
<path d="M225.9 272.75L229.2 266.35L222.6 266.35Z" fill="none" stroke="#f57d0f" stroke-width="1.6"/>
<path d="M254.9 221.35L258.35 224.8L254.9 228.25L251.45 224.8Z" fill="none" stroke="#9b19f5" stroke-width="1.6"/>
<path d="M247.3 211.55L250.75 215L247.3 218.45L243.85 215Z" fill="none" stroke="#0000ff" stroke-width="1.6"/>
<path d="M282.6 225.52L283.51 228.12L286.26 228.18L284.06 229.85L284.86 232.48L282.6 230.91L280.34 232.48L281.14 229.85L278.94 228.18L281.69 228.12Z" fill="none" stroke="#000000" stroke-width="1.79" stroke-linejoin="round"/>
<path d="M255.3 209.32L256.21 211.92L258.96 211.98L256.76 213.65L257.56 216.28L255.3 214.71L253.04 216.28L253.84 213.65L251.64 211.98L254.39 211.92Z" fill="none" stroke="#ff0000" stroke-width="1.79" stroke-linejoin="round"/>
<circle cx="265" cy="184.1" r="3.65" fill="none" stroke="#a5f51e" stroke-width="1.6"/>
<path d="M257.9 200.05L261.35 203.5L257.9 206.95L254.45 203.5Z" fill="none" stroke="#b21e1e" stroke-width="1.6"/>
<path d="M240.7 257.95L244 251.55L237.4 251.55Z" fill="none" stroke="#1e8c1e" stroke-width="1.6"/>
<path d="M248 220.15L251.3 226.55L244.7 226.55Z" fill="none" stroke="#1e90ff" stroke-width="1.6"/>
<rect x="267.75" y="183.45" width="7.3" height="7.3" fill="none" stroke="#b21e1e" stroke-width="1.6"/>
<path d="M264.6 188.4L272.4 196.2M264.6 196.2L272.4 188.4" stroke="#c3c3c3" stroke-width="1.6"/>
<circle cx="261" cy="219.2" r="3.65" fill="none" stroke="#f0148c" stroke-width="1.6"/>
<path d="M230.8 217V224.6M227.07 218.56L234.53 223.04M227.07 223.04L234.53 218.56" stroke="#f57d0f" stroke-width="1.6" stroke-linecap="round"/>
<path d="M274 206.9H283M278.5 202.4V211.4" stroke="#9b19f5" stroke-width="1.6"/>
<g stroke="#0000ff" fill="none"><circle cx="284.6" cy="246.9" r="3.55" stroke-width="1.84"/><path d="M282.04 244.34L287.16 249.46M282.04 249.46L287.16 244.34" stroke-width="1.36"/></g>
<path d="M185.2 273.9L285.2 194.1" stroke="#000" stroke-width="1.6" fill="none"/>
<path d="M184.4 282.3v1.6M184.4 168.6v-1.6M187.87 282.3v1.6M187.87 168.6v-1.6M191.35 282.3v1.6M191.35 168.6v-1.6M194.82 282.3v1.6M194.82 168.6v-1.6M198.29 282.3v1.6M198.29 168.6v-1.6M201.77 282.3v1.6M201.77 168.6v-1.6M205.24 282.3v1.6M205.24 168.6v-1.6M208.71 282.3v1.6M208.71 168.6v-1.6M212.19 282.3v1.6M212.19 168.6v-1.6M215.66 282.3v1.6M215.66 168.6v-1.6M219.13 282.3v1.6M219.13 168.6v-1.6M222.61 282.3v1.6M222.61 168.6v-1.6M226.08 282.3v1.6M226.08 168.6v-1.6M229.55 282.3v1.6M229.55 168.6v-1.6M233.03 282.3v1.6M233.03 168.6v-1.6M236.5 282.3v1.6M236.5 168.6v-1.6M239.97 282.3v1.6M239.97 168.6v-1.6M243.45 282.3v1.6M243.45 168.6v-1.6M246.92 282.3v1.6M246.92 168.6v-1.6M250.39 282.3v1.6M250.39 168.6v-1.6M253.87 282.3v1.6M253.87 168.6v-1.6M257.34 282.3v1.6M257.34 168.6v-1.6M260.81 282.3v1.6M260.81 168.6v-1.6M264.29 282.3v1.6M264.29 168.6v-1.6M267.76 282.3v1.6M267.76 168.6v-1.6M271.23 282.3v1.6M271.23 168.6v-1.6M274.71 282.3v1.6M274.71 168.6v-1.6M278.18 282.3v1.6M278.18 168.6v-1.6M281.65 282.3v1.6M281.65 168.6v-1.6M285.13 282.3v1.6M285.13 168.6v-1.6M288.6 282.3v1.6M288.6 168.6v-1.6M184.4 282.3h-1.6M288.6 282.3h1.6M184.4 275.98h-1.6M288.6 275.98h1.6M184.4 269.67h-1.6M288.6 269.67h1.6M184.4 263.35h-1.6M288.6 263.35h1.6M184.4 257.03h-1.6M288.6 257.03h1.6M184.4 250.72h-1.6M288.6 250.72h1.6M184.4 244.4h-1.6M288.6 244.4h1.6M184.4 238.08h-1.6M288.6 238.08h1.6M184.4 231.77h-1.6M288.6 231.77h1.6M184.4 225.45h-1.6M288.6 225.45h1.6M184.4 219.13h-1.6M288.6 219.13h1.6M184.4 212.82h-1.6M288.6 212.82h1.6M184.4 206.5h-1.6M288.6 206.5h1.6M184.4 200.18h-1.6M288.6 200.18h1.6M184.4 193.87h-1.6M288.6 193.87h1.6M184.4 187.55h-1.6M288.6 187.55h1.6M184.4 181.23h-1.6M288.6 181.23h1.6M184.4 174.92h-1.6M288.6 174.92h1.6M184.4 168.6h-1.6M288.6 168.6h1.6" stroke="#000" stroke-width="1.1" fill="none"/>
<path d="M184.4 282.3v3.2M184.4 168.6v-3.2M201.77 282.3v3.2M201.77 168.6v-3.2M219.13 282.3v3.2M219.13 168.6v-3.2M236.5 282.3v3.2M236.5 168.6v-3.2M253.87 282.3v3.2M253.87 168.6v-3.2M271.23 282.3v3.2M271.23 168.6v-3.2M288.6 282.3v3.2M288.6 168.6v-3.2M184.4 282.3h-3.2M288.6 282.3h3.2M184.4 257.03h-3.2M288.6 257.03h3.2M184.4 231.77h-3.2M288.6 231.77h3.2M184.4 206.5h-3.2M288.6 206.5h3.2M184.4 181.23h-3.2M288.6 181.23h3.2" stroke="#000" stroke-width="1.3" fill="none"/>
<rect x="184.4" y="168.6" width="104.2" height="113.7" fill="none" stroke="#000" stroke-width="1.6"/>
<text transform="translate(184.4 296.5) scale(0.92 1)" font-size="8.4" text-anchor="middle" font-family='"Liberation Sans", sans-serif' stroke="#000" stroke-width="0.35">0.30</text>
<text transform="translate(201.77 296.5) scale(0.92 1)" font-size="8.4" text-anchor="middle" font-family='"Liberation Sans", sans-serif' stroke="#000" stroke-width="0.35">0.40</text>
<text transform="translate(219.13 296.5) scale(0.92 1)" font-size="8.4" text-anchor="middle" font-family='"Liberation Sans", sans-serif' stroke="#000" stroke-width="0.35">0.50</text>
<text transform="translate(236.5 296.5) scale(0.92 1)" font-size="8.4" text-anchor="middle" font-family='"Liberation Sans", sans-serif' stroke="#000" stroke-width="0.35">0.60</text>
<text transform="translate(253.87 296.5) scale(0.92 1)" font-size="8.4" text-anchor="middle" font-family='"Liberation Sans", sans-serif' stroke="#000" stroke-width="0.35">0.70</text>
<text transform="translate(271.23 296.5) scale(0.92 1)" font-size="8.4" text-anchor="middle" font-family='"Liberation Sans", sans-serif' stroke="#000" stroke-width="0.35">0.80</text>
<text transform="translate(288.6 296.5) scale(0.92 1)" font-size="8.4" text-anchor="middle" font-family='"Liberation Sans", sans-serif' stroke="#000" stroke-width="0.35">0.90</text>
<text transform="translate(175.9 285.2) scale(0.92 1)" font-size="8.4" text-anchor="end" font-family='"Liberation Sans", sans-serif' stroke="#000" stroke-width="0.35">0.0</text>
<text transform="translate(175.9 259.93) scale(0.92 1)" font-size="8.4" text-anchor="end" font-family='"Liberation Sans", sans-serif' stroke="#000" stroke-width="0.35">0.2</text>
<text transform="translate(175.9 234.67) scale(0.92 1)" font-size="8.4" text-anchor="end" font-family='"Liberation Sans", sans-serif' stroke="#000" stroke-width="0.35">0.4</text>
<text transform="translate(175.9 209.4) scale(0.92 1)" font-size="8.4" text-anchor="end" font-family='"Liberation Sans", sans-serif' stroke="#000" stroke-width="0.35">0.6</text>
<text transform="translate(175.9 184.13) scale(0.92 1)" font-size="8.4" text-anchor="end" font-family='"Liberation Sans", sans-serif' stroke="#000" stroke-width="0.35">0.8</text>
<text x="184.2" y="163.4" font-size="10.25" text-anchor="start" font-family='"Liberation Sans", sans-serif' stroke="#000" stroke-width="0.35">(f) R= 0.67</text>
<text x="289.9" y="165.1" font-size="10.25" text-anchor="end" font-family='"Liberation Sans", sans-serif' stroke="#000" stroke-width="0.35">Lead 1</text>
<text x="186.8" y="179.5" font-size="11.1" text-anchor="start" font-family='"Liberation Sans", sans-serif' stroke="#000" stroke-width="0.35">p&lt;0.01</text>
<text transform="translate(156.66 225.45) rotate(-90) scale(1 0.92)" font-size="10.5" text-anchor="middle" font-family='"Liberation Sans", sans-serif' stroke="#000" stroke-width="0.35">R(DJF ATL3, NDJ IODW)</text>
<path d="M402.9 242.2V249.8M399.17 243.76L406.63 248.24M399.17 248.24L406.63 243.76" stroke="#ff0000" stroke-width="1.6" stroke-linecap="round"/>
<g stroke="#a5f51e" fill="none"><circle cx="403.9" cy="259.6" r="3.55" stroke-width="1.84"/><path d="M401.34 257.04L406.46 262.16M401.34 262.16L406.46 257.04" stroke-width="1.36"/></g>
<path d="M354.6 229.7H363.6M359.1 225.2V234.2" stroke="#b21e1e" stroke-width="1.6"/>
<path d="M332.3 217.6V225.2M328.57 219.16L336.03 223.64M328.57 223.64L336.03 219.16" stroke="#1e8c1e" stroke-width="1.6" stroke-linecap="round"/>
<circle cx="420.4" cy="216.2" r="3.65" fill="none" stroke="#1e90ff" stroke-width="1.6"/>
<path d="M405.3 197.2L413.1 205M405.3 205L413.1 197.2" stroke="#b21e1e" stroke-width="1.6"/>
<rect x="414.25" y="212.35" width="7.3" height="7.3" fill="none" stroke="#bebebe" stroke-width="1.6"/>
<path d="M396.5 261.05L399.8 267.45L393.2 267.45Z" fill="none" stroke="#f0148c" stroke-width="1.6"/>
<path d="M372.9 180.95L376.2 174.55L369.6 174.55Z" fill="none" stroke="#f57d0f" stroke-width="1.6"/>
<path d="M401.9 198.55L405.35 202L401.9 205.45L398.45 202Z" fill="none" stroke="#9b19f5" stroke-width="1.6"/>
<path d="M394.3 188.75L397.75 192.2L394.3 195.65L390.85 192.2Z" fill="none" stroke="#0000ff" stroke-width="1.6"/>
<path d="M429.6 210.62L430.51 213.22L433.26 213.28L431.06 214.95L431.86 217.58L429.6 216.01L427.34 217.58L428.14 214.95L425.94 213.28L428.69 213.22Z" fill="none" stroke="#000000" stroke-width="1.79" stroke-linejoin="round"/>
<path d="M402.3 231.02L403.21 233.62L405.96 233.68L403.76 235.35L404.56 237.98L402.3 236.41L400.04 237.98L400.84 235.35L398.64 233.68L401.39 233.62Z" fill="none" stroke="#ff0000" stroke-width="1.79" stroke-linejoin="round"/>
<circle cx="412" cy="211.4" r="3.65" fill="none" stroke="#a5f51e" stroke-width="1.6"/>
<path d="M404.9 206.45L408.35 209.9L404.9 213.35L401.45 209.9Z" fill="none" stroke="#b21e1e" stroke-width="1.6"/>
<path d="M387.7 205.95L391 199.55L384.4 199.55Z" fill="none" stroke="#1e8c1e" stroke-width="1.6"/>
<path d="M395 230.55L398.3 236.95L391.7 236.95Z" fill="none" stroke="#1e90ff" stroke-width="1.6"/>
<rect x="414.75" y="165.95" width="7.3" height="7.3" fill="none" stroke="#b21e1e" stroke-width="1.6"/>
<path d="M411.6 171.6L419.4 179.4M411.6 179.4L419.4 171.6" stroke="#c3c3c3" stroke-width="1.6"/>
<circle cx="408" cy="201.6" r="3.65" fill="none" stroke="#f0148c" stroke-width="1.6"/>
<path d="M377.8 180.7V188.3M374.07 182.26L381.53 186.74M374.07 186.74L381.53 182.26" stroke="#f57d0f" stroke-width="1.6" stroke-linecap="round"/>
<path d="M421 237.5H430M425.5 233V242" stroke="#9b19f5" stroke-width="1.6"/>
<g stroke="#0000ff" fill="none"><circle cx="431.6" cy="250.2" r="3.55" stroke-width="1.84"/><path d="M429.04 247.64L434.16 252.76M429.04 252.76L434.16 247.64" stroke-width="1.36"/></g>
<path d="M331.6 209.5L432.9 216.6" stroke="#000" stroke-width="1.6" fill="none"/>
<path d="M331.4 282.3v1.6M331.4 168.6v-1.6M334.87 282.3v1.6M334.87 168.6v-1.6M338.35 282.3v1.6M338.35 168.6v-1.6M341.82 282.3v1.6M341.82 168.6v-1.6M345.29 282.3v1.6M345.29 168.6v-1.6M348.77 282.3v1.6M348.77 168.6v-1.6M352.24 282.3v1.6M352.24 168.6v-1.6M355.71 282.3v1.6M355.71 168.6v-1.6M359.19 282.3v1.6M359.19 168.6v-1.6M362.66 282.3v1.6M362.66 168.6v-1.6M366.13 282.3v1.6M366.13 168.6v-1.6M369.61 282.3v1.6M369.61 168.6v-1.6M373.08 282.3v1.6M373.08 168.6v-1.6M376.55 282.3v1.6M376.55 168.6v-1.6M380.03 282.3v1.6M380.03 168.6v-1.6M383.5 282.3v1.6M383.5 168.6v-1.6M386.97 282.3v1.6M386.97 168.6v-1.6M390.45 282.3v1.6M390.45 168.6v-1.6M393.92 282.3v1.6M393.92 168.6v-1.6M397.39 282.3v1.6M397.39 168.6v-1.6M400.87 282.3v1.6M400.87 168.6v-1.6M404.34 282.3v1.6M404.34 168.6v-1.6M407.81 282.3v1.6M407.81 168.6v-1.6M411.29 282.3v1.6M411.29 168.6v-1.6M414.76 282.3v1.6M414.76 168.6v-1.6M418.23 282.3v1.6M418.23 168.6v-1.6M421.71 282.3v1.6M421.71 168.6v-1.6M425.18 282.3v1.6M425.18 168.6v-1.6M428.65 282.3v1.6M428.65 168.6v-1.6M432.13 282.3v1.6M432.13 168.6v-1.6M435.6 282.3v1.6M435.6 168.6v-1.6M331.4 282.3h-1.6M435.6 282.3h1.6M331.4 272.82h-1.6M435.6 272.82h1.6M331.4 263.35h-1.6M435.6 263.35h1.6M331.4 253.88h-1.6M435.6 253.88h1.6M331.4 244.4h-1.6M435.6 244.4h1.6M331.4 234.93h-1.6M435.6 234.93h1.6M331.4 225.45h-1.6M435.6 225.45h1.6M331.4 215.98h-1.6M435.6 215.98h1.6M331.4 206.5h-1.6M435.6 206.5h1.6M331.4 197.03h-1.6M435.6 197.03h1.6M331.4 187.55h-1.6M435.6 187.55h1.6M331.4 178.08h-1.6M435.6 178.08h1.6M331.4 168.6h-1.6M435.6 168.6h1.6" stroke="#000" stroke-width="1.1" fill="none"/>
<path d="M331.4 282.3v3.2M331.4 168.6v-3.2M348.77 282.3v3.2M348.77 168.6v-3.2M366.13 282.3v3.2M366.13 168.6v-3.2M383.5 282.3v3.2M383.5 168.6v-3.2M400.87 282.3v3.2M400.87 168.6v-3.2M418.23 282.3v3.2M418.23 168.6v-3.2M435.6 282.3v3.2M435.6 168.6v-3.2M331.4 263.35h-3.2M435.6 263.35h3.2M331.4 234.93h-3.2M435.6 234.93h3.2M331.4 206.5h-3.2M435.6 206.5h3.2M331.4 178.08h-3.2M435.6 178.08h3.2" stroke="#000" stroke-width="1.3" fill="none"/>
<rect x="331.4" y="168.6" width="104.2" height="113.7" fill="none" stroke="#000" stroke-width="1.6"/>
<text transform="translate(331.4 296.5) scale(0.92 1)" font-size="8.4" text-anchor="middle" font-family='"Liberation Sans", sans-serif' stroke="#000" stroke-width="0.35">0.30</text>
<text transform="translate(348.77 296.5) scale(0.92 1)" font-size="8.4" text-anchor="middle" font-family='"Liberation Sans", sans-serif' stroke="#000" stroke-width="0.35">0.40</text>
<text transform="translate(366.13 296.5) scale(0.92 1)" font-size="8.4" text-anchor="middle" font-family='"Liberation Sans", sans-serif' stroke="#000" stroke-width="0.35">0.50</text>
<text transform="translate(383.5 296.5) scale(0.92 1)" font-size="8.4" text-anchor="middle" font-family='"Liberation Sans", sans-serif' stroke="#000" stroke-width="0.35">0.60</text>
<text transform="translate(400.87 296.5) scale(0.92 1)" font-size="8.4" text-anchor="middle" font-family='"Liberation Sans", sans-serif' stroke="#000" stroke-width="0.35">0.70</text>
<text transform="translate(418.23 296.5) scale(0.92 1)" font-size="8.4" text-anchor="middle" font-family='"Liberation Sans", sans-serif' stroke="#000" stroke-width="0.35">0.80</text>
<text transform="translate(435.6 296.5) scale(0.92 1)" font-size="8.4" text-anchor="middle" font-family='"Liberation Sans", sans-serif' stroke="#000" stroke-width="0.35">0.90</text>
<text transform="translate(322.9 266.25) scale(0.92 1)" font-size="8.4" text-anchor="end" font-family='"Liberation Sans", sans-serif' stroke="#000" stroke-width="0.35">-0.6</text>
<text transform="translate(322.9 237.83) scale(0.92 1)" font-size="8.4" text-anchor="end" font-family='"Liberation Sans", sans-serif' stroke="#000" stroke-width="0.35">-0.3</text>
<text transform="translate(322.9 209.4) scale(0.92 1)" font-size="8.4" text-anchor="end" font-family='"Liberation Sans", sans-serif' stroke="#000" stroke-width="0.35">0.0</text>
<text transform="translate(322.9 180.98) scale(0.92 1)" font-size="8.4" text-anchor="end" font-family='"Liberation Sans", sans-serif' stroke="#000" stroke-width="0.35">0.3</text>
<text x="331.2" y="163.4" font-size="10.25" text-anchor="start" font-family='"Liberation Sans", sans-serif' stroke="#000" stroke-width="0.35">(j) R=-0.07</text>
<text x="436.9" y="165.1" font-size="10.25" text-anchor="end" font-family='"Liberation Sans", sans-serif' stroke="#000" stroke-width="0.35">Lead 1</text>
<text transform="translate(301.08 225.45) rotate(-90) scale(1 0.92)" font-size="10.5" text-anchor="middle" font-family='"Liberation Sans", sans-serif' stroke="#000" stroke-width="0.35">R(DJF ATL3, NDJ IODE)</text>
<path d="M97.6 351.2V358.8M93.87 352.76L101.33 357.24M93.87 357.24L101.33 352.76" stroke="#ff0000" stroke-width="1.6" stroke-linecap="round"/>
<g stroke="#a5f51e" fill="none"><circle cx="91.7" cy="334.1" r="3.55" stroke-width="1.84"/><path d="M89.14 331.54L94.26 336.66M89.14 336.66L94.26 331.54" stroke-width="1.36"/></g>
<path d="M77.7 396.8H86.7M82.2 392.3V401.3" stroke="#b21e1e" stroke-width="1.6"/>
<path d="M50.9 395.5V403.1M47.17 397.06L54.63 401.54M47.17 401.54L54.63 397.06" stroke="#1e8c1e" stroke-width="1.6" stroke-linecap="round"/>
<circle cx="124.1" cy="335.4" r="3.65" fill="none" stroke="#1e90ff" stroke-width="1.6"/>
<path d="M120.2 345.4L128 353.2M120.2 353.2L128 345.4" stroke="#b21e1e" stroke-width="1.6"/>
<rect x="95.95" y="340.75" width="7.3" height="7.3" fill="none" stroke="#bebebe" stroke-width="1.6"/>
<path d="M73.4 361.15L76.7 367.55L70.1 367.55Z" fill="none" stroke="#f0148c" stroke-width="1.6"/>
<path d="M68 424.05L71.3 417.65L64.7 417.65Z" fill="none" stroke="#f57d0f" stroke-width="1.6"/>
<path d="M105.5 350.35L108.95 353.8L105.5 357.25L102.05 353.8Z" fill="none" stroke="#9b19f5" stroke-width="1.6"/>
<path d="M92.4 356.55L95.85 360L92.4 363.45L88.95 360Z" fill="none" stroke="#0000ff" stroke-width="1.6"/>
<path d="M96.3 362.72L97.21 365.32L99.96 365.38L97.76 367.05L98.56 369.68L96.3 368.11L94.04 369.68L94.84 367.05L92.64 365.38L95.39 365.32Z" fill="none" stroke="#000000" stroke-width="1.79" stroke-linejoin="round"/>
<path d="M95.9 356.52L96.81 359.12L99.56 359.18L97.36 360.85L98.16 363.48L95.9 361.91L93.64 363.48L94.44 360.85L92.24 359.18L94.99 359.12Z" fill="none" stroke="#ff0000" stroke-width="1.79" stroke-linejoin="round"/>
<circle cx="120.5" cy="332.8" r="3.65" fill="none" stroke="#a5f51e" stroke-width="1.6"/>
<path d="M116.5 338.55L119.95 342L116.5 345.45L113.05 342Z" fill="none" stroke="#b21e1e" stroke-width="1.6"/>
<path d="M95.1 391.65L98.4 385.25L91.8 385.25Z" fill="none" stroke="#1e8c1e" stroke-width="1.6"/>
<path d="M118.5 362.25L121.8 368.65L115.2 368.65Z" fill="none" stroke="#1e90ff" stroke-width="1.6"/>
<rect x="105.85" y="347.95" width="7.3" height="7.3" fill="none" stroke="#b21e1e" stroke-width="1.6"/>
<path d="M118.5 345.1L126.3 352.9M118.5 352.9L126.3 345.1" stroke="#c3c3c3" stroke-width="1.6"/>
<circle cx="112.4" cy="393.7" r="3.65" fill="none" stroke="#f0148c" stroke-width="1.6"/>
<path d="M68.2 392.4V400M64.47 393.96L71.93 398.44M64.47 398.44L71.93 393.96" stroke="#f57d0f" stroke-width="1.6" stroke-linecap="round"/>
<path d="M123.5 355.4H132.5M128 350.9V359.9" stroke="#9b19f5" stroke-width="1.6"/>
<g stroke="#0000ff" fill="none"><circle cx="105.7" cy="353.8" r="3.55" stroke-width="1.84"/><path d="M103.14 351.24L108.26 356.36M103.14 356.36L108.26 351.24" stroke-width="1.36"/></g>
<path d="M50.9 401.9L128 341.6" stroke="#000" stroke-width="1.6" fill="none"/>
<path d="M37.4 437.8v1.6M37.4 324.1v-1.6M44.84 437.8v1.6M44.84 324.1v-1.6M52.29 437.8v1.6M52.29 324.1v-1.6M59.73 437.8v1.6M59.73 324.1v-1.6M67.17 437.8v1.6M67.17 324.1v-1.6M74.61 437.8v1.6M74.61 324.1v-1.6M82.06 437.8v1.6M82.06 324.1v-1.6M89.5 437.8v1.6M89.5 324.1v-1.6M96.94 437.8v1.6M96.94 324.1v-1.6M104.39 437.8v1.6M104.39 324.1v-1.6M111.83 437.8v1.6M111.83 324.1v-1.6M119.27 437.8v1.6M119.27 324.1v-1.6M126.71 437.8v1.6M126.71 324.1v-1.6M134.16 437.8v1.6M134.16 324.1v-1.6M141.6 437.8v1.6M141.6 324.1v-1.6M37.4 437.8h-1.6M141.6 437.8h1.6M37.4 428.32h-1.6M141.6 428.32h1.6M37.4 418.85h-1.6M141.6 418.85h1.6M37.4 409.38h-1.6M141.6 409.38h1.6M37.4 399.9h-1.6M141.6 399.9h1.6M37.4 390.43h-1.6M141.6 390.43h1.6M37.4 380.95h-1.6M141.6 380.95h1.6M37.4 371.48h-1.6M141.6 371.48h1.6M37.4 362h-1.6M141.6 362h1.6M37.4 352.53h-1.6M141.6 352.53h1.6M37.4 343.05h-1.6M141.6 343.05h1.6M37.4 333.58h-1.6M141.6 333.58h1.6M37.4 324.1h-1.6M141.6 324.1h1.6" stroke="#000" stroke-width="1.1" fill="none"/>
<path d="M37.4 437.8v3.2M37.4 324.1v-3.2M67.17 437.8v3.2M67.17 324.1v-3.2M96.94 437.8v3.2M96.94 324.1v-3.2M126.71 437.8v3.2M126.71 324.1v-3.2M37.4 428.32h-3.2M141.6 428.32h3.2M37.4 399.9h-3.2M141.6 399.9h3.2M37.4 371.48h-3.2M141.6 371.48h3.2M37.4 343.05h-3.2M141.6 343.05h3.2" stroke="#000" stroke-width="1.3" fill="none"/>
<rect x="37.4" y="324.1" width="104.2" height="113.7" fill="none" stroke="#000" stroke-width="1.6"/>
<text transform="translate(37.4 452) scale(0.92 1)" font-size="8.4" text-anchor="middle" font-family='"Liberation Sans", sans-serif' stroke="#000" stroke-width="0.35">0.20</text>
<text transform="translate(67.17 452) scale(0.92 1)" font-size="8.4" text-anchor="middle" font-family='"Liberation Sans", sans-serif' stroke="#000" stroke-width="0.35">0.40</text>
<text transform="translate(96.94 452) scale(0.92 1)" font-size="8.4" text-anchor="middle" font-family='"Liberation Sans", sans-serif' stroke="#000" stroke-width="0.35">0.60</text>
<text transform="translate(126.71 452) scale(0.92 1)" font-size="8.4" text-anchor="middle" font-family='"Liberation Sans", sans-serif' stroke="#000" stroke-width="0.35">0.80</text>
<text transform="translate(28.9 431.22) scale(0.92 1)" font-size="8.4" text-anchor="end" font-family='"Liberation Sans", sans-serif' stroke="#000" stroke-width="0.35">-0.3</text>
<text transform="translate(28.9 402.8) scale(0.92 1)" font-size="8.4" text-anchor="end" font-family='"Liberation Sans", sans-serif' stroke="#000" stroke-width="0.35">0.0</text>
<text transform="translate(28.9 374.38) scale(0.92 1)" font-size="8.4" text-anchor="end" font-family='"Liberation Sans", sans-serif' stroke="#000" stroke-width="0.35">0.3</text>
<text transform="translate(28.9 345.95) scale(0.92 1)" font-size="8.4" text-anchor="end" font-family='"Liberation Sans", sans-serif' stroke="#000" stroke-width="0.35">0.6</text>
<text x="37.2" y="318.9" font-size="10.25" text-anchor="start" font-family='"Liberation Sans", sans-serif' stroke="#000" stroke-width="0.35">(c) R= 0.68</text>
<text x="142" y="320.6" font-size="10.25" text-anchor="end" font-family='"Liberation Sans", sans-serif' stroke="#000" stroke-width="0.35">Lead 2</text>
<text x="39.8" y="335" font-size="11.1" text-anchor="start" font-family='"Liberation Sans", sans-serif' stroke="#000" stroke-width="0.35">p&lt;0.01</text>
<text transform="translate(7.08 380.95) rotate(-90) scale(1 0.92)" font-size="10.5" text-anchor="middle" font-family='"Liberation Sans", sans-serif' stroke="#000" stroke-width="0.35">R(DJF ATL3, OND IOD)</text>
<path d="M244.6 380.5V388.1M240.87 382.06L248.33 386.54M240.87 386.54L248.33 382.06" stroke="#ff0000" stroke-width="1.6" stroke-linecap="round"/>
<g stroke="#a5f51e" fill="none"><circle cx="238.7" cy="329" r="3.55" stroke-width="1.84"/><path d="M236.14 326.44L241.26 331.56M236.14 331.56L241.26 326.44" stroke-width="1.36"/></g>
<path d="M224.7 406H233.7M229.2 401.5V410.5" stroke="#b21e1e" stroke-width="1.6"/>
<path d="M197.9 404.3V411.9M194.17 405.86L201.63 410.34M194.17 410.34L201.63 405.86" stroke="#1e8c1e" stroke-width="1.6" stroke-linecap="round"/>
<circle cx="271.1" cy="342.9" r="3.65" fill="none" stroke="#1e90ff" stroke-width="1.6"/>
<path d="M267.2 352.6L275 360.4M267.2 360.4L275 352.6" stroke="#b21e1e" stroke-width="1.6"/>
<rect x="242.95" y="341.95" width="7.3" height="7.3" fill="none" stroke="#bebebe" stroke-width="1.6"/>
<path d="M220.4 403.45L223.7 409.85L217.1 409.85Z" fill="none" stroke="#f0148c" stroke-width="1.6"/>
<path d="M215 422.55L218.3 416.15L211.7 416.15Z" fill="none" stroke="#f57d0f" stroke-width="1.6"/>
<path d="M252.5 365.35L255.95 368.8L252.5 372.25L249.05 368.8Z" fill="none" stroke="#9b19f5" stroke-width="1.6"/>
<path d="M239.4 365.35L242.85 368.8L239.4 372.25L235.95 368.8Z" fill="none" stroke="#0000ff" stroke-width="1.6"/>
<path d="M243.3 372.82L244.21 375.42L246.96 375.48L244.76 377.15L245.56 379.78L243.3 378.21L241.04 379.78L241.84 377.15L239.64 375.48L242.39 375.42Z" fill="none" stroke="#000000" stroke-width="1.79" stroke-linejoin="round"/>
<path d="M242.9 367.42L243.81 370.02L246.56 370.08L244.36 371.75L245.16 374.38L242.9 372.81L240.64 374.38L241.44 371.75L239.24 370.08L241.99 370.02Z" fill="none" stroke="#ff0000" stroke-width="1.79" stroke-linejoin="round"/>
<circle cx="267.5" cy="341.5" r="3.65" fill="none" stroke="#a5f51e" stroke-width="1.6"/>
<path d="M263.5 350.75L266.95 354.2L263.5 357.65L260.05 354.2Z" fill="none" stroke="#b21e1e" stroke-width="1.6"/>
<path d="M242.1 398.95L245.4 392.55L238.8 392.55Z" fill="none" stroke="#1e8c1e" stroke-width="1.6"/>
<path d="M265.5 384.75L268.8 391.15L262.2 391.15Z" fill="none" stroke="#1e90ff" stroke-width="1.6"/>
<rect x="252.85" y="369.05" width="7.3" height="7.3" fill="none" stroke="#b21e1e" stroke-width="1.6"/>
<path d="M265.5 351.6L273.3 359.4M265.5 359.4L273.3 351.6" stroke="#c3c3c3" stroke-width="1.6"/>
<circle cx="259.4" cy="388.9" r="3.65" fill="none" stroke="#f0148c" stroke-width="1.6"/>
<path d="M215.2 400.8V408.4M211.47 402.36L218.93 406.84M211.47 406.84L218.93 402.36" stroke="#f57d0f" stroke-width="1.6" stroke-linecap="round"/>
<path d="M270.5 364H279.5M275 359.5V368.5" stroke="#9b19f5" stroke-width="1.6"/>
<g stroke="#0000ff" fill="none"><circle cx="252.7" cy="362.4" r="3.55" stroke-width="1.84"/><path d="M250.14 359.84L255.26 364.96M250.14 364.96L255.26 359.84" stroke-width="1.36"/></g>
<path d="M197.9 414.6L275 351.2" stroke="#000" stroke-width="1.6" fill="none"/>
<path d="M184.4 437.8v1.6M184.4 324.1v-1.6M191.84 437.8v1.6M191.84 324.1v-1.6M199.29 437.8v1.6M199.29 324.1v-1.6M206.73 437.8v1.6M206.73 324.1v-1.6M214.17 437.8v1.6M214.17 324.1v-1.6M221.61 437.8v1.6M221.61 324.1v-1.6M229.06 437.8v1.6M229.06 324.1v-1.6M236.5 437.8v1.6M236.5 324.1v-1.6M243.94 437.8v1.6M243.94 324.1v-1.6M251.39 437.8v1.6M251.39 324.1v-1.6M258.83 437.8v1.6M258.83 324.1v-1.6M266.27 437.8v1.6M266.27 324.1v-1.6M273.71 437.8v1.6M273.71 324.1v-1.6M281.16 437.8v1.6M281.16 324.1v-1.6M288.6 437.8v1.6M288.6 324.1v-1.6M184.4 437.8h-1.6M288.6 437.8h1.6M184.4 432.63h-1.6M288.6 432.63h1.6M184.4 427.46h-1.6M288.6 427.46h1.6M184.4 422.3h-1.6M288.6 422.3h1.6M184.4 417.13h-1.6M288.6 417.13h1.6M184.4 411.96h-1.6M288.6 411.96h1.6M184.4 406.79h-1.6M288.6 406.79h1.6M184.4 401.62h-1.6M288.6 401.62h1.6M184.4 396.45h-1.6M288.6 396.45h1.6M184.4 391.29h-1.6M288.6 391.29h1.6M184.4 386.12h-1.6M288.6 386.12h1.6M184.4 380.95h-1.6M288.6 380.95h1.6M184.4 375.78h-1.6M288.6 375.78h1.6M184.4 370.61h-1.6M288.6 370.61h1.6M184.4 365.45h-1.6M288.6 365.45h1.6M184.4 360.28h-1.6M288.6 360.28h1.6M184.4 355.11h-1.6M288.6 355.11h1.6M184.4 349.94h-1.6M288.6 349.94h1.6M184.4 344.77h-1.6M288.6 344.77h1.6M184.4 339.6h-1.6M288.6 339.6h1.6M184.4 334.44h-1.6M288.6 334.44h1.6M184.4 329.27h-1.6M288.6 329.27h1.6M184.4 324.1h-1.6M288.6 324.1h1.6" stroke="#000" stroke-width="1.1" fill="none"/>
<path d="M184.4 437.8v3.2M184.4 324.1v-3.2M214.17 437.8v3.2M214.17 324.1v-3.2M243.94 437.8v3.2M243.94 324.1v-3.2M273.71 437.8v3.2M273.71 324.1v-3.2M184.4 437.8h-3.2M288.6 437.8h3.2M184.4 417.13h-3.2M288.6 417.13h3.2M184.4 396.45h-3.2M288.6 396.45h3.2M184.4 375.78h-3.2M288.6 375.78h3.2M184.4 355.11h-3.2M288.6 355.11h3.2M184.4 334.44h-3.2M288.6 334.44h3.2" stroke="#000" stroke-width="1.3" fill="none"/>
<rect x="184.4" y="324.1" width="104.2" height="113.7" fill="none" stroke="#000" stroke-width="1.6"/>
<text transform="translate(184.4 452) scale(0.92 1)" font-size="8.4" text-anchor="middle" font-family='"Liberation Sans", sans-serif' stroke="#000" stroke-width="0.35">0.20</text>
<text transform="translate(214.17 452) scale(0.92 1)" font-size="8.4" text-anchor="middle" font-family='"Liberation Sans", sans-serif' stroke="#000" stroke-width="0.35">0.40</text>
<text transform="translate(243.94 452) scale(0.92 1)" font-size="8.4" text-anchor="middle" font-family='"Liberation Sans", sans-serif' stroke="#000" stroke-width="0.35">0.60</text>
<text transform="translate(273.71 452) scale(0.92 1)" font-size="8.4" text-anchor="middle" font-family='"Liberation Sans", sans-serif' stroke="#000" stroke-width="0.35">0.80</text>
<text transform="translate(175.9 440.7) scale(0.92 1)" font-size="8.4" text-anchor="end" font-family='"Liberation Sans", sans-serif' stroke="#000" stroke-width="0.35">-0.2</text>
<text transform="translate(175.9 420.03) scale(0.92 1)" font-size="8.4" text-anchor="end" font-family='"Liberation Sans", sans-serif' stroke="#000" stroke-width="0.35">0.0</text>
<text transform="translate(175.9 399.35) scale(0.92 1)" font-size="8.4" text-anchor="end" font-family='"Liberation Sans", sans-serif' stroke="#000" stroke-width="0.35">0.2</text>
<text transform="translate(175.9 378.68) scale(0.92 1)" font-size="8.4" text-anchor="end" font-family='"Liberation Sans", sans-serif' stroke="#000" stroke-width="0.35">0.4</text>
<text transform="translate(175.9 358.01) scale(0.92 1)" font-size="8.4" text-anchor="end" font-family='"Liberation Sans", sans-serif' stroke="#000" stroke-width="0.35">0.6</text>
<text transform="translate(175.9 337.34) scale(0.92 1)" font-size="8.4" text-anchor="end" font-family='"Liberation Sans", sans-serif' stroke="#000" stroke-width="0.35">0.8</text>
<text x="184.2" y="318.9" font-size="10.25" text-anchor="start" font-family='"Liberation Sans", sans-serif' stroke="#000" stroke-width="0.35">(g) R= 0.69</text>
<text x="289" y="320.6" font-size="10.25" text-anchor="end" font-family='"Liberation Sans", sans-serif' stroke="#000" stroke-width="0.35">Lead 2</text>
<text x="186.8" y="335" font-size="11.1" text-anchor="start" font-family='"Liberation Sans", sans-serif' stroke="#000" stroke-width="0.35">p&lt;0.01</text>
<text transform="translate(154.08 380.95) rotate(-90) scale(1 0.92)" font-size="10.5" text-anchor="middle" font-family='"Liberation Sans", sans-serif' stroke="#000" stroke-width="0.35">R(DJF ATL3, OND IODW)</text>
<path d="M391.6 415.7V423.3M387.87 417.26L395.33 421.74M387.87 421.74L395.33 417.26" stroke="#ff0000" stroke-width="1.6" stroke-linecap="round"/>
<g stroke="#a5f51e" fill="none"><circle cx="385.7" cy="432.3" r="3.55" stroke-width="1.84"/><path d="M383.14 429.74L388.26 434.86M383.14 434.86L388.26 429.74" stroke-width="1.36"/></g>
<path d="M371.7 363.9H380.7M376.2 359.4V368.4" stroke="#b21e1e" stroke-width="1.6"/>
<path d="M344.9 355.9V363.5M341.17 357.46L348.63 361.94M341.17 361.94L348.63 357.46" stroke="#1e8c1e" stroke-width="1.6" stroke-linecap="round"/>
<circle cx="418.1" cy="426.1" r="3.65" fill="none" stroke="#1e90ff" stroke-width="1.6"/>
<path d="M414.2 406.8L422 414.6M414.2 414.6L422 406.8" stroke="#b21e1e" stroke-width="1.6"/>
<rect x="389.95" y="414.95" width="7.3" height="7.3" fill="none" stroke="#bebebe" stroke-width="1.6"/>
<path d="M367.4 417.85L370.7 424.25L364.1 424.25Z" fill="none" stroke="#f0148c" stroke-width="1.6"/>
<path d="M362 332.35L365.3 325.95L358.7 325.95Z" fill="none" stroke="#f57d0f" stroke-width="1.6"/>
<path d="M399.5 397.75L402.95 401.2L399.5 404.65L396.05 401.2Z" fill="none" stroke="#9b19f5" stroke-width="1.6"/>
<path d="M386.4 393.05L389.85 396.5L386.4 399.95L382.95 396.5Z" fill="none" stroke="#0000ff" stroke-width="1.6"/>
<path d="M390.3 392.22L391.21 394.82L393.96 394.88L391.76 396.55L392.56 399.18L390.3 397.61L388.04 399.18L388.84 396.55L386.64 394.88L389.39 394.82Z" fill="none" stroke="#000000" stroke-width="1.79" stroke-linejoin="round"/>
<path d="M389.9 399.82L390.81 402.42L393.56 402.48L391.36 404.15L392.16 406.78L389.9 405.21L387.64 406.78L388.44 404.15L386.24 402.48L388.99 402.42Z" fill="none" stroke="#ff0000" stroke-width="1.79" stroke-linejoin="round"/>
<circle cx="414.5" cy="433.7" r="3.65" fill="none" stroke="#a5f51e" stroke-width="1.6"/>
<path d="M410.5 424.75L413.95 428.2L410.5 431.65L407.05 428.2Z" fill="none" stroke="#b21e1e" stroke-width="1.6"/>
<path d="M389.1 370.75L392.4 364.35L385.8 364.35Z" fill="none" stroke="#1e8c1e" stroke-width="1.6"/>
<path d="M412.5 410.25L415.8 416.65L409.2 416.65Z" fill="none" stroke="#1e90ff" stroke-width="1.6"/>
<rect x="399.85" y="412.55" width="7.3" height="7.3" fill="none" stroke="#b21e1e" stroke-width="1.6"/>
<path d="M412.5 407.1L420.3 414.9M412.5 414.9L420.3 407.1" stroke="#c3c3c3" stroke-width="1.6"/>
<circle cx="406.4" cy="360.7" r="3.65" fill="none" stroke="#f0148c" stroke-width="1.6"/>
<path d="M362.2 362.2V369.8M358.47 363.76L365.93 368.24M358.47 368.24L365.93 363.76" stroke="#f57d0f" stroke-width="1.6" stroke-linecap="round"/>
<path d="M417.5 412.1H426.5M422 407.6V416.6" stroke="#9b19f5" stroke-width="1.6"/>
<g stroke="#0000ff" fill="none"><circle cx="399.7" cy="408" r="3.55" stroke-width="1.84"/><path d="M397.14 405.44L402.26 410.56M397.14 410.56L402.26 405.44" stroke-width="1.36"/></g>
<path d="M344.9 359.2L422.1 423.4" stroke="#000" stroke-width="1.6" fill="none"/>
<path d="M331.4 437.8v1.6M331.4 324.1v-1.6M338.84 437.8v1.6M338.84 324.1v-1.6M346.29 437.8v1.6M346.29 324.1v-1.6M353.73 437.8v1.6M353.73 324.1v-1.6M361.17 437.8v1.6M361.17 324.1v-1.6M368.61 437.8v1.6M368.61 324.1v-1.6M376.06 437.8v1.6M376.06 324.1v-1.6M383.5 437.8v1.6M383.5 324.1v-1.6M390.94 437.8v1.6M390.94 324.1v-1.6M398.39 437.8v1.6M398.39 324.1v-1.6M405.83 437.8v1.6M405.83 324.1v-1.6M413.27 437.8v1.6M413.27 324.1v-1.6M420.71 437.8v1.6M420.71 324.1v-1.6M428.16 437.8v1.6M428.16 324.1v-1.6M435.6 437.8v1.6M435.6 324.1v-1.6M331.4 437.8h-1.6M435.6 437.8h1.6M331.4 432.12h-1.6M435.6 432.12h1.6M331.4 426.43h-1.6M435.6 426.43h1.6M331.4 420.75h-1.6M435.6 420.75h1.6M331.4 415.06h-1.6M435.6 415.06h1.6M331.4 409.38h-1.6M435.6 409.38h1.6M331.4 403.69h-1.6M435.6 403.69h1.6M331.4 398h-1.6M435.6 398h1.6M331.4 392.32h-1.6M435.6 392.32h1.6M331.4 386.63h-1.6M435.6 386.63h1.6M331.4 380.95h-1.6M435.6 380.95h1.6M331.4 375.26h-1.6M435.6 375.26h1.6M331.4 369.58h-1.6M435.6 369.58h1.6M331.4 363.89h-1.6M435.6 363.89h1.6M331.4 358.21h-1.6M435.6 358.21h1.6M331.4 352.52h-1.6M435.6 352.52h1.6M331.4 346.84h-1.6M435.6 346.84h1.6M331.4 341.16h-1.6M435.6 341.16h1.6M331.4 335.47h-1.6M435.6 335.47h1.6M331.4 329.79h-1.6M435.6 329.79h1.6M331.4 324.1h-1.6M435.6 324.1h1.6" stroke="#000" stroke-width="1.1" fill="none"/>
<path d="M331.4 437.8v3.2M331.4 324.1v-3.2M361.17 437.8v3.2M361.17 324.1v-3.2M390.94 437.8v3.2M390.94 324.1v-3.2M420.71 437.8v3.2M420.71 324.1v-3.2M331.4 437.8h-3.2M435.6 437.8h3.2M331.4 415.06h-3.2M435.6 415.06h3.2M331.4 392.32h-3.2M435.6 392.32h3.2M331.4 369.58h-3.2M435.6 369.58h3.2M331.4 346.84h-3.2M435.6 346.84h3.2M331.4 324.1h-3.2M435.6 324.1h3.2" stroke="#000" stroke-width="1.3" fill="none"/>
<rect x="331.4" y="324.1" width="104.2" height="113.7" fill="none" stroke="#000" stroke-width="1.6"/>
<text transform="translate(331.4 452) scale(0.92 1)" font-size="8.4" text-anchor="middle" font-family='"Liberation Sans", sans-serif' stroke="#000" stroke-width="0.35">0.20</text>
<text transform="translate(361.17 452) scale(0.92 1)" font-size="8.4" text-anchor="middle" font-family='"Liberation Sans", sans-serif' stroke="#000" stroke-width="0.35">0.40</text>
<text transform="translate(390.94 452) scale(0.92 1)" font-size="8.4" text-anchor="middle" font-family='"Liberation Sans", sans-serif' stroke="#000" stroke-width="0.35">0.60</text>
<text transform="translate(420.71 452) scale(0.92 1)" font-size="8.4" text-anchor="middle" font-family='"Liberation Sans", sans-serif' stroke="#000" stroke-width="0.35">0.80</text>
<text transform="translate(322.9 440.7) scale(0.92 1)" font-size="8.4" text-anchor="end" font-family='"Liberation Sans", sans-serif' stroke="#000" stroke-width="0.35">-0.6</text>
<text transform="translate(322.9 417.96) scale(0.92 1)" font-size="8.4" text-anchor="end" font-family='"Liberation Sans", sans-serif' stroke="#000" stroke-width="0.35">-0.4</text>
<text transform="translate(322.9 395.22) scale(0.92 1)" font-size="8.4" text-anchor="end" font-family='"Liberation Sans", sans-serif' stroke="#000" stroke-width="0.35">-0.2</text>
<text transform="translate(322.9 372.48) scale(0.92 1)" font-size="8.4" text-anchor="end" font-family='"Liberation Sans", sans-serif' stroke="#000" stroke-width="0.35">0.0</text>
<text transform="translate(322.9 349.74) scale(0.92 1)" font-size="8.4" text-anchor="end" font-family='"Liberation Sans", sans-serif' stroke="#000" stroke-width="0.35">0.2</text>
<text transform="translate(322.9 327) scale(0.92 1)" font-size="8.4" text-anchor="end" font-family='"Liberation Sans", sans-serif' stroke="#000" stroke-width="0.35">0.4</text>
<text x="331.2" y="318.9" font-size="10.25" text-anchor="start" font-family='"Liberation Sans", sans-serif' stroke="#000" stroke-width="0.35">(k) R=-0.62</text>
<text x="436" y="320.6" font-size="10.25" text-anchor="end" font-family='"Liberation Sans", sans-serif' stroke="#000" stroke-width="0.35">Lead 2</text>
<text x="333.8" y="335" font-size="11.1" text-anchor="start" font-family='"Liberation Sans", sans-serif' stroke="#000" stroke-width="0.35">p&lt;0.01</text>
<text transform="translate(301.08 380.95) rotate(-90) scale(1 0.92)" font-size="10.5" text-anchor="middle" font-family='"Liberation Sans", sans-serif' stroke="#000" stroke-width="0.35">R(DJF ATL3, OND IODE)</text>
<path d="M95.6 490.8V498.4M91.87 492.36L99.33 496.84M91.87 496.84L99.33 492.36" stroke="#ff0000" stroke-width="1.6" stroke-linecap="round"/>
<g stroke="#a5f51e" fill="none"><circle cx="94.1" cy="501.9" r="3.55" stroke-width="1.84"/><path d="M91.54 499.34L96.66 504.46M91.54 504.46L96.66 499.34" stroke-width="1.36"/></g>
<path d="M61.4 556.8H70.4M65.9 552.3V561.3" stroke="#b21e1e" stroke-width="1.6"/>
<path d="M56.7 541.1V548.7M52.97 542.66L60.43 547.14M52.97 547.14L60.43 542.66" stroke="#1e8c1e" stroke-width="1.6" stroke-linecap="round"/>
<circle cx="132.2" cy="498.8" r="3.65" fill="none" stroke="#1e90ff" stroke-width="1.6"/>
<path d="M133.4 508.6L141.2 516.4M133.4 516.4L141.2 508.6" stroke="#b21e1e" stroke-width="1.6"/>
<rect x="108.35" y="498.45" width="7.3" height="7.3" fill="none" stroke="#bebebe" stroke-width="1.6"/>
<path d="M54.4 516.05L57.7 522.45L51.1 522.45Z" fill="none" stroke="#f0148c" stroke-width="1.6"/>
<path d="M38.8 579.55L42.1 573.15L35.5 573.15Z" fill="none" stroke="#f57d0f" stroke-width="1.6"/>
<path d="M108.2 507.95L111.65 511.4L108.2 514.85L104.75 511.4Z" fill="none" stroke="#9b19f5" stroke-width="1.6"/>
<path d="M103.9 498.45L107.35 501.9L103.9 505.35L100.45 501.9Z" fill="none" stroke="#0000ff" stroke-width="1.6"/>
<path d="M75.5 512.62L76.41 515.22L79.16 515.28L76.96 516.95L77.76 519.58L75.5 518.01L73.24 519.58L74.04 516.95L71.84 515.28L74.59 515.22Z" fill="none" stroke="#000000" stroke-width="1.79" stroke-linejoin="round"/>
<path d="M94.5 512.82L95.41 515.42L98.16 515.48L95.96 517.15L96.76 519.78L94.5 518.21L92.24 519.78L93.04 517.15L90.84 515.48L93.59 515.42Z" fill="none" stroke="#ff0000" stroke-width="1.79" stroke-linejoin="round"/>
<circle cx="123.4" cy="480.1" r="3.65" fill="none" stroke="#a5f51e" stroke-width="1.6"/>
<path d="M109.8 491.35L113.25 494.8L109.8 498.25L106.35 494.8Z" fill="none" stroke="#b21e1e" stroke-width="1.6"/>
<path d="M88.4 540.35L91.7 533.95L85.1 533.95Z" fill="none" stroke="#1e8c1e" stroke-width="1.6"/>
<path d="M121.8 522.75L125.1 529.15L118.5 529.15Z" fill="none" stroke="#1e90ff" stroke-width="1.6"/>
<rect x="112.95" y="494.75" width="7.3" height="7.3" fill="none" stroke="#b21e1e" stroke-width="1.6"/>
<path d="M117 494.2L124.8 502M117 502L124.8 494.2" stroke="#c3c3c3" stroke-width="1.6"/>
<circle cx="81.1" cy="540.3" r="3.65" fill="none" stroke="#f0148c" stroke-width="1.6"/>
<path d="M97.8 531.7V539.3M94.07 533.26L101.53 537.74M94.07 537.74L101.53 533.26" stroke="#f57d0f" stroke-width="1.6" stroke-linecap="round"/>
<path d="M124.1 515.4H133.1M128.6 510.9V519.9" stroke="#9b19f5" stroke-width="1.6"/>
<g stroke="#0000ff" fill="none"><circle cx="85" cy="492" r="3.55" stroke-width="1.84"/><path d="M82.44 489.44L87.56 494.56M82.44 494.56L87.56 489.44" stroke-width="1.36"/></g>
<path d="M37.6 550.4L138 492.3" stroke="#000" stroke-width="1.6" fill="none"/>
<path d="M37.4 593.3v1.6M37.4 479.6v-1.6M44.84 593.3v1.6M44.84 479.6v-1.6M52.29 593.3v1.6M52.29 479.6v-1.6M59.73 593.3v1.6M59.73 479.6v-1.6M67.17 593.3v1.6M67.17 479.6v-1.6M74.61 593.3v1.6M74.61 479.6v-1.6M82.06 593.3v1.6M82.06 479.6v-1.6M89.5 593.3v1.6M89.5 479.6v-1.6M96.94 593.3v1.6M96.94 479.6v-1.6M104.39 593.3v1.6M104.39 479.6v-1.6M111.83 593.3v1.6M111.83 479.6v-1.6M119.27 593.3v1.6M119.27 479.6v-1.6M126.71 593.3v1.6M126.71 479.6v-1.6M134.16 593.3v1.6M134.16 479.6v-1.6M141.6 593.3v1.6M141.6 479.6v-1.6M37.4 593.3h-1.6M141.6 593.3h1.6M37.4 584.55h-1.6M141.6 584.55h1.6M37.4 575.81h-1.6M141.6 575.81h1.6M37.4 567.06h-1.6M141.6 567.06h1.6M37.4 558.32h-1.6M141.6 558.32h1.6M37.4 549.57h-1.6M141.6 549.57h1.6M37.4 540.82h-1.6M141.6 540.82h1.6M37.4 532.08h-1.6M141.6 532.08h1.6M37.4 523.33h-1.6M141.6 523.33h1.6M37.4 514.58h-1.6M141.6 514.58h1.6M37.4 505.84h-1.6M141.6 505.84h1.6M37.4 497.09h-1.6M141.6 497.09h1.6M37.4 488.35h-1.6M141.6 488.35h1.6M37.4 479.6h-1.6M141.6 479.6h1.6" stroke="#000" stroke-width="1.1" fill="none"/>
<path d="M52.29 593.3v3.2M52.29 479.6v-3.2M82.06 593.3v3.2M82.06 479.6v-3.2M111.83 593.3v3.2M111.83 479.6v-3.2M141.6 593.3v3.2M141.6 479.6v-3.2M37.4 593.3h-3.2M141.6 593.3h3.2M37.4 567.06h-3.2M141.6 567.06h3.2M37.4 540.82h-3.2M141.6 540.82h3.2M37.4 514.58h-3.2M141.6 514.58h3.2M37.4 488.35h-3.2M141.6 488.35h3.2" stroke="#000" stroke-width="1.3" fill="none"/>
<rect x="37.4" y="479.6" width="104.2" height="113.7" fill="none" stroke="#000" stroke-width="1.6"/>
<text transform="translate(52.29 607.5) scale(0.92 1)" font-size="8.4" text-anchor="middle" font-family='"Liberation Sans", sans-serif' stroke="#000" stroke-width="0.35">0.20</text>
<text transform="translate(82.06 607.5) scale(0.92 1)" font-size="8.4" text-anchor="middle" font-family='"Liberation Sans", sans-serif' stroke="#000" stroke-width="0.35">0.40</text>
<text transform="translate(111.83 607.5) scale(0.92 1)" font-size="8.4" text-anchor="middle" font-family='"Liberation Sans", sans-serif' stroke="#000" stroke-width="0.35">0.60</text>
<text transform="translate(141.6 607.5) scale(0.92 1)" font-size="8.4" text-anchor="middle" font-family='"Liberation Sans", sans-serif' stroke="#000" stroke-width="0.35">0.80</text>
<text transform="translate(28.9 596.2) scale(0.92 1)" font-size="8.4" text-anchor="end" font-family='"Liberation Sans", sans-serif' stroke="#000" stroke-width="0.35">-0.6</text>
<text transform="translate(28.9 569.96) scale(0.92 1)" font-size="8.4" text-anchor="end" font-family='"Liberation Sans", sans-serif' stroke="#000" stroke-width="0.35">-0.3</text>
<text transform="translate(28.9 543.72) scale(0.92 1)" font-size="8.4" text-anchor="end" font-family='"Liberation Sans", sans-serif' stroke="#000" stroke-width="0.35">0.0</text>
<text transform="translate(28.9 517.48) scale(0.92 1)" font-size="8.4" text-anchor="end" font-family='"Liberation Sans", sans-serif' stroke="#000" stroke-width="0.35">0.3</text>
<text transform="translate(28.9 491.25) scale(0.92 1)" font-size="8.4" text-anchor="end" font-family='"Liberation Sans", sans-serif' stroke="#000" stroke-width="0.35">0.6</text>
<text x="37.2" y="474.4" font-size="10.25" text-anchor="start" font-family='"Liberation Sans", sans-serif' stroke="#000" stroke-width="0.35">(d) R= 0.67</text>
<text x="142" y="476.1" font-size="10.25" text-anchor="end" font-family='"Liberation Sans", sans-serif' stroke="#000" stroke-width="0.35">Lead 3</text>
<text x="39.8" y="490.5" font-size="11.1" text-anchor="start" font-family='"Liberation Sans", sans-serif' stroke="#000" stroke-width="0.35">p&lt;0.01</text>
<text transform="translate(7.08 536.45) rotate(-90) scale(1 0.92)" font-size="10.5" text-anchor="middle" font-family='"Liberation Sans", sans-serif' stroke="#000" stroke-width="0.35">R(DJF ATL3, SON IOD)</text>
<g stroke="#a5f51e" fill="none"><circle cx="241.1" cy="492.7" r="3.55" stroke-width="1.84"/><path d="M238.54 490.14L243.66 495.26M238.54 495.26L243.66 490.14" stroke-width="1.36"/></g>
<path d="M208.4 562H217.4M212.9 557.5V566.5" stroke="#b21e1e" stroke-width="1.6"/>
<path d="M203.7 551.6V559.2M199.97 553.16L207.43 557.64M199.97 557.64L207.43 553.16" stroke="#1e8c1e" stroke-width="1.6" stroke-linecap="round"/>
<circle cx="279.2" cy="508.3" r="3.65" fill="none" stroke="#1e90ff" stroke-width="1.6"/>
<path d="M280.4 522.9L288.2 530.7M280.4 530.7L288.2 522.9" stroke="#b21e1e" stroke-width="1.6"/>
<rect x="255.35" y="494.95" width="7.3" height="7.3" fill="none" stroke="#bebebe" stroke-width="1.6"/>
<path d="M201.4 550.55L204.7 556.95L198.1 556.95Z" fill="none" stroke="#f0148c" stroke-width="1.6"/>
<path d="M185.8 585.25L189.1 578.85L182.5 578.85Z" fill="none" stroke="#f57d0f" stroke-width="1.6"/>
<path d="M255.2 517.95L258.65 521.4L255.2 524.85L251.75 521.4Z" fill="none" stroke="#9b19f5" stroke-width="1.6"/>
<path d="M250.9 499.75L254.35 503.2L250.9 506.65L247.45 503.2Z" fill="none" stroke="#0000ff" stroke-width="1.6"/>
<path d="M222.5 514.92L223.41 517.52L226.16 517.58L223.96 519.25L224.76 521.88L222.5 520.31L220.24 521.88L221.04 519.25L218.84 517.58L221.59 517.52Z" fill="none" stroke="#000000" stroke-width="1.79" stroke-linejoin="round"/>
<path d="M241.5 514.12L242.41 516.72L245.16 516.78L242.96 518.45L243.76 521.08L241.5 519.51L239.24 521.08L240.04 518.45L237.84 516.78L240.59 516.72Z" fill="none" stroke="#ff0000" stroke-width="1.79" stroke-linejoin="round"/>
<circle cx="270.4" cy="485.1" r="3.65" fill="none" stroke="#a5f51e" stroke-width="1.6"/>
<path d="M256.8 501.85L260.25 505.3L256.8 508.75L253.35 505.3Z" fill="none" stroke="#b21e1e" stroke-width="1.6"/>
<path d="M235.4 540.35L238.7 533.95L232.1 533.95Z" fill="none" stroke="#1e8c1e" stroke-width="1.6"/>
<path d="M268.8 538.65L272.1 545.05L265.5 545.05Z" fill="none" stroke="#1e90ff" stroke-width="1.6"/>
<rect x="259.95" y="499.55" width="7.3" height="7.3" fill="none" stroke="#b21e1e" stroke-width="1.6"/>
<path d="M264 495.5L271.8 503.3M264 503.3L271.8 495.5" stroke="#c3c3c3" stroke-width="1.6"/>
<circle cx="228.1" cy="528.8" r="3.65" fill="none" stroke="#f0148c" stroke-width="1.6"/>
<path d="M244.8 517.3V524.9M241.07 518.86L248.53 523.34M241.07 523.34L248.53 518.86" stroke="#f57d0f" stroke-width="1.6" stroke-linecap="round"/>
<path d="M271.1 518.7H280.1M275.6 514.2V523.2" stroke="#9b19f5" stroke-width="1.6"/>
<g stroke="#0000ff" fill="none"><circle cx="232" cy="506" r="3.55" stroke-width="1.84"/><path d="M229.44 503.44L234.56 508.56M229.44 508.56L234.56 503.44" stroke-width="1.36"/></g>
<path d="M184.6 559.4L285.1 496.3" stroke="#000" stroke-width="1.6" fill="none"/>
<path d="M184.4 593.3v1.6M184.4 479.6v-1.6M191.84 593.3v1.6M191.84 479.6v-1.6M199.29 593.3v1.6M199.29 479.6v-1.6M206.73 593.3v1.6M206.73 479.6v-1.6M214.17 593.3v1.6M214.17 479.6v-1.6M221.61 593.3v1.6M221.61 479.6v-1.6M229.06 593.3v1.6M229.06 479.6v-1.6M236.5 593.3v1.6M236.5 479.6v-1.6M243.94 593.3v1.6M243.94 479.6v-1.6M251.39 593.3v1.6M251.39 479.6v-1.6M258.83 593.3v1.6M258.83 479.6v-1.6M266.27 593.3v1.6M266.27 479.6v-1.6M273.71 593.3v1.6M273.71 479.6v-1.6M281.16 593.3v1.6M281.16 479.6v-1.6M288.6 593.3v1.6M288.6 479.6v-1.6M184.4 593.3h-1.6M288.6 593.3h1.6M184.4 583.83h-1.6M288.6 583.83h1.6M184.4 574.35h-1.6M288.6 574.35h1.6M184.4 564.88h-1.6M288.6 564.88h1.6M184.4 555.4h-1.6M288.6 555.4h1.6M184.4 545.93h-1.6M288.6 545.93h1.6M184.4 536.45h-1.6M288.6 536.45h1.6M184.4 526.98h-1.6M288.6 526.98h1.6M184.4 517.5h-1.6M288.6 517.5h1.6M184.4 508.03h-1.6M288.6 508.03h1.6M184.4 498.55h-1.6M288.6 498.55h1.6M184.4 489.08h-1.6M288.6 489.08h1.6M184.4 479.6h-1.6M288.6 479.6h1.6" stroke="#000" stroke-width="1.1" fill="none"/>
<path d="M199.29 593.3v3.2M199.29 479.6v-3.2M229.06 593.3v3.2M229.06 479.6v-3.2M258.83 593.3v3.2M258.83 479.6v-3.2M288.6 593.3v3.2M288.6 479.6v-3.2M184.4 583.83h-3.2M288.6 583.83h3.2M184.4 555.4h-3.2M288.6 555.4h3.2M184.4 526.98h-3.2M288.6 526.98h3.2M184.4 498.55h-3.2M288.6 498.55h3.2" stroke="#000" stroke-width="1.3" fill="none"/>
<rect x="184.4" y="479.6" width="104.2" height="113.7" fill="none" stroke="#000" stroke-width="1.6"/>
<text transform="translate(199.29 607.5) scale(0.92 1)" font-size="8.4" text-anchor="middle" font-family='"Liberation Sans", sans-serif' stroke="#000" stroke-width="0.35">0.20</text>
<text transform="translate(229.06 607.5) scale(0.92 1)" font-size="8.4" text-anchor="middle" font-family='"Liberation Sans", sans-serif' stroke="#000" stroke-width="0.35">0.40</text>
<text transform="translate(258.83 607.5) scale(0.92 1)" font-size="8.4" text-anchor="middle" font-family='"Liberation Sans", sans-serif' stroke="#000" stroke-width="0.35">0.60</text>
<text transform="translate(288.6 607.5) scale(0.92 1)" font-size="8.4" text-anchor="middle" font-family='"Liberation Sans", sans-serif' stroke="#000" stroke-width="0.35">0.80</text>
<text transform="translate(175.9 586.73) scale(0.92 1)" font-size="8.4" text-anchor="end" font-family='"Liberation Sans", sans-serif' stroke="#000" stroke-width="0.35">-0.3</text>
<text transform="translate(175.9 558.3) scale(0.92 1)" font-size="8.4" text-anchor="end" font-family='"Liberation Sans", sans-serif' stroke="#000" stroke-width="0.35">0.0</text>
<text transform="translate(175.9 529.88) scale(0.92 1)" font-size="8.4" text-anchor="end" font-family='"Liberation Sans", sans-serif' stroke="#000" stroke-width="0.35">0.3</text>
<text transform="translate(175.9 501.45) scale(0.92 1)" font-size="8.4" text-anchor="end" font-family='"Liberation Sans", sans-serif' stroke="#000" stroke-width="0.35">0.6</text>
<text x="184.2" y="474.4" font-size="10.25" text-anchor="start" font-family='"Liberation Sans", sans-serif' stroke="#000" stroke-width="0.35">(h) R= 0.70</text>
<text x="289" y="476.1" font-size="10.25" text-anchor="end" font-family='"Liberation Sans", sans-serif' stroke="#000" stroke-width="0.35">Lead 3</text>
<text x="186.8" y="490.5" font-size="11.1" text-anchor="start" font-family='"Liberation Sans", sans-serif' stroke="#000" stroke-width="0.35">p&lt;0.01</text>
<text transform="translate(154.08 536.45) rotate(-90) scale(1 0.92)" font-size="10.5" text-anchor="middle" font-family='"Liberation Sans", sans-serif' stroke="#000" stroke-width="0.35">R(DJF ATL3, SON IODW)</text>
<path d="M389.6 564.2V571.8M385.87 565.76L393.33 570.24M385.87 570.24L393.33 565.76" stroke="#ff0000" stroke-width="1.6" stroke-linecap="round"/>
<g stroke="#a5f51e" fill="none"><circle cx="388.1" cy="553.9" r="3.55" stroke-width="1.84"/><path d="M385.54 551.34L390.66 556.46M385.54 556.46L390.66 551.34" stroke-width="1.36"/></g>
<path d="M355.4 505.3H364.4M359.9 500.8V509.8" stroke="#b21e1e" stroke-width="1.6"/>
<path d="M350.7 514V521.6M346.97 515.56L354.43 520.04M346.97 520.04L354.43 515.56" stroke="#1e8c1e" stroke-width="1.6" stroke-linecap="round"/>
<circle cx="426.2" cy="562" r="3.65" fill="none" stroke="#1e90ff" stroke-width="1.6"/>
<path d="M427.4 545.9L435.2 553.7M427.4 553.7L435.2 545.9" stroke="#b21e1e" stroke-width="1.6"/>
<rect x="402.35" y="550.05" width="7.3" height="7.3" fill="none" stroke="#bebebe" stroke-width="1.6"/>
<path d="M348.4 548.45L351.7 554.85L345.1 554.85Z" fill="none" stroke="#f0148c" stroke-width="1.6"/>
<path d="M332.8 488.05L336.1 481.65L329.5 481.65Z" fill="none" stroke="#f57d0f" stroke-width="1.6"/>
<path d="M402.2 539.85L405.65 543.3L402.2 546.75L398.75 543.3Z" fill="none" stroke="#9b19f5" stroke-width="1.6"/>
<path d="M397.9 541.55L401.35 545L397.9 548.45L394.45 545Z" fill="none" stroke="#0000ff" stroke-width="1.6"/>
<path d="M369.5 535.22L370.41 537.82L373.16 537.88L370.96 539.55L371.76 542.18L369.5 540.61L367.24 542.18L368.04 539.55L365.84 537.88L368.59 537.82Z" fill="none" stroke="#000000" stroke-width="1.79" stroke-linejoin="round"/>
<path d="M388.5 538.52L389.41 541.12L392.16 541.18L389.96 542.85L390.76 545.48L388.5 543.91L386.24 545.48L387.04 542.85L384.84 541.18L387.59 541.12Z" fill="none" stroke="#ff0000" stroke-width="1.79" stroke-linejoin="round"/>
<circle cx="417.4" cy="576.3" r="3.65" fill="none" stroke="#a5f51e" stroke-width="1.6"/>
<path d="M403.8 557.65L407.25 561.1L403.8 564.55L400.35 561.1Z" fill="none" stroke="#b21e1e" stroke-width="1.6"/>
<path d="M382.4 520.15L385.7 513.75L379.1 513.75Z" fill="none" stroke="#1e8c1e" stroke-width="1.6"/>
<path d="M415.8 536.25L419.1 542.65L412.5 542.65Z" fill="none" stroke="#1e90ff" stroke-width="1.6"/>
<rect x="406.95" y="553.75" width="7.3" height="7.3" fill="none" stroke="#b21e1e" stroke-width="1.6"/>
<path d="M411 552.6L418.8 560.4M411 560.4L418.8 552.6" stroke="#c3c3c3" stroke-width="1.6"/>
<circle cx="375.1" cy="512.6" r="3.65" fill="none" stroke="#f0148c" stroke-width="1.6"/>
<path d="M391.8 514.4V522M388.07 515.96L395.53 520.44M388.07 520.44L395.53 515.96" stroke="#f57d0f" stroke-width="1.6" stroke-linecap="round"/>
<path d="M418.1 543.3H427.1M422.6 538.8V547.8" stroke="#9b19f5" stroke-width="1.6"/>
<g stroke="#0000ff" fill="none"><circle cx="379" cy="551.8" r="3.55" stroke-width="1.84"/><path d="M376.44 549.24L381.56 554.36M376.44 554.36L381.56 549.24" stroke-width="1.36"/></g>
<path d="M331.9 508L432.1 563.7" stroke="#000" stroke-width="1.6" fill="none"/>
<path d="M331.4 593.3v1.6M331.4 479.6v-1.6M338.84 593.3v1.6M338.84 479.6v-1.6M346.29 593.3v1.6M346.29 479.6v-1.6M353.73 593.3v1.6M353.73 479.6v-1.6M361.17 593.3v1.6M361.17 479.6v-1.6M368.61 593.3v1.6M368.61 479.6v-1.6M376.06 593.3v1.6M376.06 479.6v-1.6M383.5 593.3v1.6M383.5 479.6v-1.6M390.94 593.3v1.6M390.94 479.6v-1.6M398.39 593.3v1.6M398.39 479.6v-1.6M405.83 593.3v1.6M405.83 479.6v-1.6M413.27 593.3v1.6M413.27 479.6v-1.6M420.71 593.3v1.6M420.71 479.6v-1.6M428.16 593.3v1.6M428.16 479.6v-1.6M435.6 593.3v1.6M435.6 479.6v-1.6M331.4 593.3h-1.6M435.6 593.3h1.6M331.4 584.55h-1.6M435.6 584.55h1.6M331.4 575.81h-1.6M435.6 575.81h1.6M331.4 567.06h-1.6M435.6 567.06h1.6M331.4 558.32h-1.6M435.6 558.32h1.6M331.4 549.57h-1.6M435.6 549.57h1.6M331.4 540.82h-1.6M435.6 540.82h1.6M331.4 532.08h-1.6M435.6 532.08h1.6M331.4 523.33h-1.6M435.6 523.33h1.6M331.4 514.58h-1.6M435.6 514.58h1.6M331.4 505.84h-1.6M435.6 505.84h1.6M331.4 497.09h-1.6M435.6 497.09h1.6M331.4 488.35h-1.6M435.6 488.35h1.6M331.4 479.6h-1.6M435.6 479.6h1.6" stroke="#000" stroke-width="1.1" fill="none"/>
<path d="M346.29 593.3v3.2M346.29 479.6v-3.2M376.06 593.3v3.2M376.06 479.6v-3.2M405.83 593.3v3.2M405.83 479.6v-3.2M435.6 593.3v3.2M435.6 479.6v-3.2M331.4 575.81h-3.2M435.6 575.81h3.2M331.4 549.57h-3.2M435.6 549.57h3.2M331.4 523.33h-3.2M435.6 523.33h3.2M331.4 497.09h-3.2M435.6 497.09h3.2" stroke="#000" stroke-width="1.3" fill="none"/>
<rect x="331.4" y="479.6" width="104.2" height="113.7" fill="none" stroke="#000" stroke-width="1.6"/>
<text transform="translate(346.29 607.5) scale(0.92 1)" font-size="8.4" text-anchor="middle" font-family='"Liberation Sans", sans-serif' stroke="#000" stroke-width="0.35">0.20</text>
<text transform="translate(376.06 607.5) scale(0.92 1)" font-size="8.4" text-anchor="middle" font-family='"Liberation Sans", sans-serif' stroke="#000" stroke-width="0.35">0.40</text>
<text transform="translate(405.83 607.5) scale(0.92 1)" font-size="8.4" text-anchor="middle" font-family='"Liberation Sans", sans-serif' stroke="#000" stroke-width="0.35">0.60</text>
<text transform="translate(435.6 607.5) scale(0.92 1)" font-size="8.4" text-anchor="middle" font-family='"Liberation Sans", sans-serif' stroke="#000" stroke-width="0.35">0.80</text>
<text transform="translate(322.9 578.71) scale(0.92 1)" font-size="8.4" text-anchor="end" font-family='"Liberation Sans", sans-serif' stroke="#000" stroke-width="0.35">-0.6</text>
<text transform="translate(322.9 552.47) scale(0.92 1)" font-size="8.4" text-anchor="end" font-family='"Liberation Sans", sans-serif' stroke="#000" stroke-width="0.35">-0.3</text>
<text transform="translate(322.9 526.23) scale(0.92 1)" font-size="8.4" text-anchor="end" font-family='"Liberation Sans", sans-serif' stroke="#000" stroke-width="0.35">0.0</text>
<text transform="translate(322.9 499.99) scale(0.92 1)" font-size="8.4" text-anchor="end" font-family='"Liberation Sans", sans-serif' stroke="#000" stroke-width="0.35">0.3</text>
<text x="331.2" y="474.4" font-size="10.25" text-anchor="start" font-family='"Liberation Sans", sans-serif' stroke="#000" stroke-width="0.35">(l) R=-0.67</text>
<text x="436" y="476.1" font-size="10.25" text-anchor="end" font-family='"Liberation Sans", sans-serif' stroke="#000" stroke-width="0.35">Lead 3</text>
<text x="333.8" y="490.5" font-size="11.1" text-anchor="start" font-family='"Liberation Sans", sans-serif' stroke="#000" stroke-width="0.35">p&lt;0.01</text>
<text transform="translate(301.08 536.45) rotate(-90) scale(1 0.92)" font-size="10.5" text-anchor="middle" font-family='"Liberation Sans", sans-serif' stroke="#000" stroke-width="0.35">R(DJF ATL3, SON IODE)</text>
<text x="89.5" y="622.6" font-size="10.6" text-anchor="middle" font-family='"Liberation Sans", sans-serif' stroke="#000" stroke-width="0.35">Skill in DJF ATL3</text>
<text x="236.5" y="622.6" font-size="10.6" text-anchor="middle" font-family='"Liberation Sans", sans-serif' stroke="#000" stroke-width="0.35">Skill in DJF ATL3</text>
<text x="383.5" y="622.6" font-size="10.6" text-anchor="middle" font-family='"Liberation Sans", sans-serif' stroke="#000" stroke-width="0.35">Skill in DJF ATL3</text>
<g stroke="#0000ff" fill="none"><circle cx="472.3" cy="74.5" r="4.51" stroke-width="2.53"/><path d="M469.05 71.25L475.55 77.75M469.05 77.75L475.55 71.25" stroke-width="1.87"/></g>
<text x="490" y="78.5" font-size="11.6" text-anchor="start" font-family='"Liberation Serif", serif' >Persistence</text>
<path d="M466.59 93.53H478.01M472.3 87.81V99.25" stroke="#9b19f5" stroke-width="2.2"/>
<text x="490" y="97.53" font-size="11.6" text-anchor="start" font-family='"Liberation Serif", serif' >MME</text>
<path d="M472.3 107.73V117.39M467.56 109.71L477.04 115.41M467.56 115.41L477.04 109.71" stroke="#ff0000" stroke-width="2.2" stroke-linecap="round"/>
<text x="490" y="116.56" font-size="11.6" text-anchor="start" font-family='"Liberation Serif", serif' >BCCCSM1.1m</text>
<g stroke="#a5f51e" fill="none"><circle cx="472.3" cy="131.59" r="4.51" stroke-width="2.53"/><path d="M469.05 128.34L475.55 134.84M469.05 134.84L475.55 128.34" stroke-width="1.87"/></g>
<text x="490" y="135.59" font-size="11.6" text-anchor="start" font-family='"Liberation Serif", serif' >CanCM4i</text>
<path d="M466.59 150.62H478.01M472.3 144.91V156.34" stroke="#b21e1e" stroke-width="2.2"/>
<text x="490" y="154.62" font-size="11.6" text-anchor="start" font-family='"Liberation Serif", serif' >CCSM4</text>
<path d="M472.3 164.82V174.48M467.56 166.8L477.04 172.5M467.56 172.5L477.04 166.8" stroke="#1e8c1e" stroke-width="2.2" stroke-linecap="round"/>
<text x="490" y="173.65" font-size="11.6" text-anchor="start" font-family='"Liberation Serif", serif' >CFSv2</text>
<circle cx="472.3" cy="188.68" r="4.64" fill="none" stroke="#1e90ff" stroke-width="2.2"/>
<text x="490" y="192.68" font-size="11.6" text-anchor="start" font-family='"Liberation Serif", serif' >CMCC-SPS3</text>
<path d="M467.35 202.76L477.25 212.66M467.35 212.66L477.25 202.76" stroke="#b21e1e" stroke-width="2.2"/>
<text x="490" y="211.71" font-size="11.6" text-anchor="start" font-family='"Liberation Serif", serif' >CMCC-SPS35</text>
<rect x="467.66" y="222.1" width="9.27" height="9.27" fill="none" stroke="#bebebe" stroke-width="2.2"/>
<text x="490" y="230.74" font-size="11.6" text-anchor="start" font-family='"Liberation Serif", serif' >ECMWF5</text>
<path d="M472.3 242.28L476.49 250.41L468.11 250.41Z" fill="none" stroke="#f0148c" stroke-width="2.2"/>
<text x="490" y="249.77" font-size="11.6" text-anchor="start" font-family='"Liberation Serif", serif' >FGOALS-f</text>
<path d="M472.3 268.29L476.49 260.16L468.11 260.16Z" fill="none" stroke="#f57d0f" stroke-width="2.2"/>
<text x="490" y="268.8" font-size="11.6" text-anchor="start" font-family='"Liberation Serif", serif' >FIO-ESM</text>
<path d="M472.3 279.45L476.68 283.83L472.3 288.21L467.92 283.83Z" fill="none" stroke="#9b19f5" stroke-width="2.2"/>
<text x="490" y="287.83" font-size="11.6" text-anchor="start" font-family='"Liberation Serif", serif' >GCFS2</text>
<path d="M472.3 298.48L476.68 302.86L472.3 307.24L467.92 302.86Z" fill="none" stroke="#0000ff" stroke-width="2.2"/>
<text x="490" y="306.86" font-size="11.6" text-anchor="start" font-family='"Liberation Serif", serif' >GCFS21</text>
<path d="M472.3 317.47L473.45 320.78L476.95 320.85L474.16 322.96L475.17 326.32L472.3 324.32L469.43 326.32L470.44 322.96L467.65 320.85L471.15 320.78Z" fill="none" stroke="#000000" stroke-width="2.46" stroke-linejoin="round"/>
<text x="490" y="325.89" font-size="11.6" text-anchor="start" font-family='"Liberation Serif", serif' >GEM_NEMO</text>
<path d="M472.3 336.5L473.45 339.81L476.95 339.88L474.16 341.99L475.17 345.35L472.3 343.35L469.43 345.35L470.44 341.99L467.65 339.88L471.15 339.81Z" fill="none" stroke="#ff0000" stroke-width="2.46" stroke-linejoin="round"/>
<text x="490" y="344.92" font-size="11.6" text-anchor="start" font-family='"Liberation Serif", serif' >GFDL_SPEAR</text>
<circle cx="472.3" cy="359.95" r="4.64" fill="none" stroke="#a5f51e" stroke-width="2.2"/>
<text x="490" y="363.95" font-size="11.6" text-anchor="start" font-family='"Liberation Serif", serif' >GloSea5</text>
<path d="M472.3 374.6L476.68 378.98L472.3 383.36L467.92 378.98Z" fill="none" stroke="#b21e1e" stroke-width="2.2"/>
<text x="490" y="382.98" font-size="11.6" text-anchor="start" font-family='"Liberation Serif", serif' >GloSea6</text>
<path d="M472.3 401.5L476.49 393.37L468.11 393.37Z" fill="none" stroke="#1e8c1e" stroke-width="2.2"/>
<text x="490" y="402.01" font-size="11.6" text-anchor="start" font-family='"Liberation Serif", serif' >JMA_CPS2</text>
<path d="M472.3 413.55L476.49 421.68L468.11 421.68Z" fill="none" stroke="#1e90ff" stroke-width="2.2"/>
<text x="490" y="421.04" font-size="11.6" text-anchor="start" font-family='"Liberation Serif", serif' >JMA_CPS3</text>
<rect x="467.66" y="431.43" width="9.27" height="9.27" fill="none" stroke="#b21e1e" stroke-width="2.2"/>
<text x="490" y="440.07" font-size="11.6" text-anchor="start" font-family='"Liberation Serif", serif' >MF6</text>
<path d="M467.35 450.15L477.25 460.05M467.35 460.05L477.25 450.15" stroke="#c3c3c3" stroke-width="2.2"/>
<text x="490" y="459.1" font-size="11.6" text-anchor="start" font-family='"Liberation Serif", serif' >MF7</text>
<circle cx="472.3" cy="474.13" r="4.64" fill="none" stroke="#f0148c" stroke-width="2.2"/>
<text x="490" y="478.13" font-size="11.6" text-anchor="start" font-family='"Liberation Serif", serif' >NASA_GEOSS2S</text>
<path d="M472.3 488.33V497.99M467.56 490.31L477.04 496.01M467.56 496.01L477.04 490.31" stroke="#f57d0f" stroke-width="2.2" stroke-linecap="round"/>
<text x="490" y="497.16" font-size="11.6" text-anchor="start" font-family='"Liberation Serif", serif' >NUIST_CFS1.0</text>
</svg>
</body></html>
